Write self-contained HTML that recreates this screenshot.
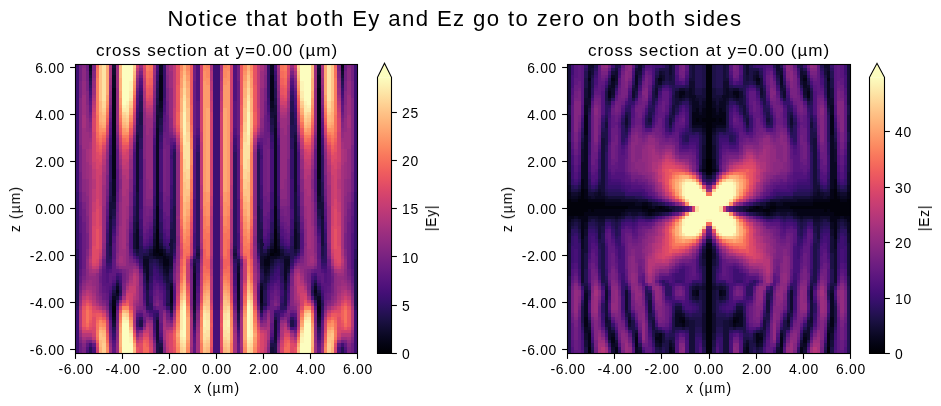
<!DOCTYPE html>
<html><head><meta charset="utf-8"><title>fields</title>
<style>
html,body{margin:0;padding:0;background:#fff;}
body{width:941px;height:406px;position:relative;overflow:hidden;font-family:"Liberation Sans",sans-serif;color:#000;}
svg{position:absolute;left:0;top:0;}
.t{position:absolute;white-space:nowrap;line-height:16px;will-change:transform;}
.c{transform:translateX(-50%);}
.r{transform:translateX(-100%);}
.rot{transform:translate(-50%,-50%) rotate(-90deg);}
.ttl{font-size:22.2px;line-height:26px;letter-spacing:1.36px;}
.sub{font-size:17.1px;line-height:20px;letter-spacing:0.95px;}
.tk{font-size:13.9px;letter-spacing:0.7px;}
</style></head>
<body>
<svg width="941" height="406" viewBox="0 0 941 406" shape-rendering="crispEdges">
<defs></defs>
<g><g transform="translate(77.179 64.500) scale(3.35714 3.36047)" stroke-width="1.03" fill="none">
<path stroke="#3f0f72" stroke-width="84" d="M41.5 0v86"/>
<path stroke="#02020b" d="M11 72v2M24 49v7M25 56v1M58 56v1M59 49v7M72 72v2"/>
<path stroke="#050416" d="M4 0v1M11 7v27M11 70v2M11 74v1M12 67v1M23 55v2M24 42v7M24 56v1M25 3v8M25 55v1M26 57v3M27 58v2M28 67v4M55 67v4M56 58v2M57 57v3M58 3v8M58 55v1M59 42v7M59 56v1M60 55v2M71 67v1M72 7v27M72 70v2M72 74v1M79 0v1"/>
<path stroke="#0a0822" d="M4 1v1M11 3v4M11 34v5M11 69v1M11 75v1M12 66v1M12 68v1M18 49v6M20 58v2M21 58v6M23 54v1M24 19v23M24 57v1M25 0v3M25 11v2M25 57v1M26 56v1M26 60v1M27 57v1M27 60v2M28 66v1M28 71v1M35 62v8M48 62v8M55 66v1M55 71v1M56 57v1M56 60v2M57 56v1M57 60v1M58 0v3M58 11v2M58 57v1M59 19v23M59 57v1M60 54v1M62 58v6M63 58v2M65 49v6M71 66v1M71 68v1M72 3v4M72 34v5M72 69v1M72 75v1M79 1v1"/>
<path stroke="#100b2d" d="M4 2v1M10 45v1M11 1v2M11 39v2M11 76v1M18 23v15M18 47v2M20 57v1M20 60v1M21 57v1M21 64v1M22 56v1M23 52v2M23 57v1M24 15v4M24 76v6M25 13v1M25 54v1M25 58v1M26 55v1M26 61v1M27 62v1M28 57v3M28 65v1M28 72v1M35 60v2M35 70v3M48 60v2M48 70v3M55 57v3M55 65v1M55 72v1M56 62v1M57 55v1M57 61v1M58 13v1M58 54v1M58 58v1M59 15v4M59 76v6M60 52v2M60 57v1M61 56v1M62 57v1M62 64v1M63 57v1M63 60v1M65 23v15M65 47v2M72 1v2M72 39v2M72 76v1M73 45v1M79 2v1"/>
<path stroke="#150e38" d="M4 3v1M10 41v4M10 46v8M11 0v1M11 41v2M11 68v1M11 77v1M12 65v1M12 69v1M17 50v5M18 21v2M18 38v9M18 55v1M20 61v1M21 65v2M22 55v1M22 57v1M23 50v2M24 12v3M24 82v1M25 14v2M25 53v1M25 59v1M25 84v2M26 62v1M27 56v1M27 63v2M28 52v5M28 60v1M35 59v1M35 73v1M36 56v1M47 56v1M48 59v1M48 73v1M55 52v5M55 60v1M56 56v1M56 63v2M57 62v1M58 14v2M58 53v1M58 59v1M58 84v2M59 12v3M59 82v1M60 50v2M61 55v1M61 57v1M62 65v2M63 61v1M65 21v2M65 38v9M65 55v1M66 50v5M71 65v1M71 69v1M72 0v1M72 41v2M72 68v1M72 77v1M73 41v4M73 46v8M79 3v1"/>
<path stroke="#1d1147" d="M4 4v1M10 39v2M10 54v3M11 43v2M11 67v1M17 47v3M18 20v1M18 56v1M19 14v4M19 76v2M20 56v1M21 56v1M21 67v5M22 58v1M23 48v2M24 10v2M24 58v1M24 75v1M24 83v3M25 16v2M25 52v1M25 60v1M25 83v1M26 63v1M27 65v2M27 71v1M28 49v3M28 61v1M28 64v1M28 73v1M29 42v11M35 58v1M35 74v2M36 55v1M36 57v1M47 55v1M47 57v1M48 58v1M48 74v2M54 42v11M55 49v3M55 61v1M55 64v1M55 73v1M56 65v2M56 71v1M57 63v1M58 16v2M58 52v1M58 60v1M58 83v1M59 10v2M59 58v1M59 75v1M59 83v3M60 48v2M61 58v1M62 56v1M62 67v5M63 56v1M64 14v4M64 76v2M65 20v1M65 56v1M66 47v3M72 43v2M72 67v1M73 39v2M73 54v3M79 4v1"/>
<path stroke="#241253" d="M0 58v14M4 5v1M4 84v2M10 35v4M10 57v1M10 71v1M11 45v1M11 78v1M12 64v1M13 67v1M17 45v2M17 55v1M18 18v2M19 11v3M19 18v4M19 54v4M20 62v1M21 55v1M22 54v1M22 59v4M23 46v2M23 58v1M24 7v3M24 59v1M25 18v2M25 50v2M25 61v1M26 54v1M26 64v1M27 55v1M27 67v4M28 47v2M28 62v2M29 26v16M29 53v2M35 76v1M36 54v1M47 54v1M48 76v1M54 26v16M54 53v2M55 47v2M55 62v2M56 55v1M56 67v4M57 54v1M57 64v1M58 18v2M58 50v2M58 61v1M59 7v3M59 59v1M60 46v2M60 58v1M61 54v1M61 59v4M62 55v1M63 62v1M64 11v3M64 18v4M64 54v4M65 18v2M66 45v2M66 55v1M70 67v1M71 64v1M72 45v1M72 78v1M73 35v4M73 57v1M73 71v1M79 5v1M79 84v2M83 58v14"/>
<path stroke="#2c115f" d="M0 55v3M0 72v1M4 6v1M9 53v6M10 27v8M10 58v1M10 70v1M10 72v1M11 46v2M11 66v1M11 79v1M12 70v1M13 66v1M13 68v1M17 42v3M18 16v2M19 9v2M19 22v3M19 51v3M19 58v1M19 75v1M20 55v1M20 63v2M21 72v1M22 63v2M22 71v2M23 43v3M23 59v1M24 5v2M24 60v1M24 74v1M25 20v1M25 47v3M25 62v1M25 82v1M28 43v4M29 25v1M29 55v1M35 77v1M36 26v28M36 58v1M47 26v28M47 58v1M48 77v1M54 25v1M54 55v1M55 43v4M58 20v1M58 47v3M58 62v1M58 82v1M59 5v2M59 60v1M59 74v1M60 43v3M60 59v1M61 63v2M61 71v2M62 72v1M63 55v1M63 63v2M64 9v2M64 22v3M64 51v3M64 58v1M64 75v1M65 16v2M66 42v3M70 66v1M70 68v1M71 70v1M72 46v2M72 66v1M72 79v1M73 27v8M73 58v1M73 70v1M73 72v1M74 53v6M79 6v1M83 55v3M83 72v1"/>
<path stroke="#36106b" d="M0 38v17M4 7v1M9 50v3M9 59v1M10 24v3M10 59v1M10 69v1M10 73v1M11 48v1M11 80v1M12 63v1M13 65v1M17 39v3M17 56v1M18 14v2M18 57v1M18 76v2M19 8v1M19 25v9M19 49v2M19 59v1M20 65v1M21 54v1M22 53v1M22 65v2M22 69v2M23 39v4M23 60v1M23 74v3M24 3v2M24 61v1M25 21v2M25 43v4M25 63v1M26 0v10M26 53v1M26 65v1M27 54v1M27 72v1M28 40v3M28 74v1M29 56v1M35 57v1M35 78v1M36 24v2M36 59v3M47 24v2M47 59v3M48 57v1M48 78v1M54 56v1M55 40v3M55 74v1M56 54v1M56 72v1M57 0v10M57 53v1M57 65v1M58 21v2M58 43v4M58 63v1M59 3v2M59 61v1M60 39v4M60 60v1M60 74v3M61 53v1M61 65v2M61 69v2M62 54v1M63 65v1M64 8v1M64 25v9M64 49v2M64 59v1M65 14v2M65 57v1M65 76v2M66 39v3M66 56v1M70 65v1M71 63v1M72 48v1M72 80v1M73 24v3M73 59v1M73 69v1M73 73v1M74 50v3M74 59v1M79 7v1M83 38v17"/>
<path stroke="#471078" d="M3 85v1M4 9v1M5 84v2M9 47v2M9 61v1M10 21v1M10 67v1M10 75v1M11 50v1M12 62v1M13 63v1M17 26v10M18 12v1M18 75v1M19 6v1M19 43v3M19 60v1M19 78v1M20 68v2M21 53v1M22 51v1M23 22v2M23 63v1M23 79v1M24 0v2M24 64v1M25 25v13M25 65v1M26 12v2M26 50v2M26 67v5M27 52v1M28 25v2M28 28v8M29 57v1M35 50v5M35 56v1M35 79v1M36 21v1M36 64v2M41 73v13M42 73v13M47 21v1M47 64v2M48 50v5M48 56v1M48 79v1M54 57v1M55 25v2M55 28v8M56 52v1M57 12v2M57 50v2M57 67v5M58 25v13M58 65v1M59 0v2M59 64v1M60 22v2M60 63v1M60 79v1M61 51v1M62 53v1M63 68v2M64 6v1M64 43v3M64 60v1M64 78v1M65 12v1M65 75v1M66 26v10M70 63v1M71 62v1M72 50v1M73 21v1M73 67v1M73 75v1M74 47v2M74 61v1M78 84v2M79 9v1M80 85v1"/>
<path stroke="#51127c" d="M1 50v11M3 84v1M4 10v1M9 45v2M9 62v3M10 19v2M10 61v1M10 66v1M11 51v2M11 64v1M11 82v1M13 62v1M13 69v1M16 50v5M17 25v1M17 57v1M18 10v2M18 58v1M18 78v1M19 5v1M19 74v1M20 53v1M20 70v1M21 52v1M21 73v1M22 49v2M22 74v1M23 21v1M23 64v2M23 80v1M25 66v1M25 80v1M26 14v1M26 49v1M27 51v1M28 24v1M29 23v1M29 67v3M35 40v10M35 55v1M35 80v1M36 0v11M36 19v2M36 66v2M47 0v11M47 19v2M47 66v2M48 40v10M48 55v1M48 80v1M54 23v1M54 67v3M55 24v1M56 51v1M57 14v1M57 49v1M58 66v1M58 80v1M60 21v1M60 64v2M60 80v1M61 49v2M61 74v1M62 52v1M62 73v1M63 53v1M63 70v1M64 5v1M64 74v1M65 10v2M65 58v1M65 78v1M66 25v1M66 57v1M67 50v5M70 62v1M70 69v1M72 51v2M72 64v1M72 82v1M73 19v2M73 61v1M73 66v1M74 45v2M74 62v3M79 10v1M80 84v1M82 50v11"/>
<path stroke="#59157e" d="M1 45v5M1 61v2M4 11v1M8 61v5M9 43v2M9 65v3M10 17v2M10 65v1M10 76v1M11 53v5M11 63v1M11 83v1M12 31v7M12 72v1M16 49v1M16 55v1M17 24v1M18 9v1M18 74v1M19 4v1M20 52v1M20 71v1M21 50v2M22 48v1M23 19v2M23 66v1M23 72v1M24 65v1M25 67v1M25 79v1M26 15v2M26 46v3M27 49v2M27 73v1M28 23v1M28 75v1M29 58v1M29 66v1M29 70v1M35 25v15M35 81v2M36 11v8M36 68v3M47 11v8M47 68v3M48 25v15M48 81v2M54 58v1M54 66v1M54 70v1M55 23v1M55 75v1M56 49v2M56 73v1M57 15v2M57 46v3M58 67v1M58 79v1M59 65v1M60 19v2M60 66v1M60 72v1M61 48v1M62 50v2M63 52v1M63 71v1M64 4v1M65 9v1M65 74v1M66 24v1M67 49v1M67 55v1M71 31v7M71 72v1M72 53v5M72 63v1M72 83v1M73 17v2M73 65v1M73 76v1M74 43v2M74 65v3M75 61v5M79 11v1M82 45v5M82 61v2"/>
<path stroke="#601880" d="M1 41v4M1 63v2M3 83v1M4 12v2M5 83v1M8 60v1M8 66v2M9 41v2M9 68v2M10 16v1M10 62v3M10 77v2M11 58v5M11 84v2M12 25v6M12 38v3M12 61v1M16 47v2M16 56v1M17 23v1M18 8v1M19 61v1M20 50v2M20 76v1M21 49v1M22 47v1M23 17v2M23 67v2M23 81v1M24 66v1M25 68v2M25 77v2M26 17v3M26 44v2M26 72v1M27 45v4M28 22v1M29 65v1M29 71v1M34 59v1M35 21v4M35 83v3M36 71v1M47 71v1M48 21v4M48 83v3M49 59v1M54 65v1M54 71v1M55 22v1M56 45v4M57 17v3M57 44v2M57 72v1M58 68v2M58 77v2M59 66v1M60 17v2M60 67v2M60 81v1M61 47v1M62 49v1M63 50v2M63 76v1M64 61v1M65 8v1M66 23v1M67 47v2M67 56v1M71 25v6M71 38v3M71 61v1M72 58v5M72 84v2M73 16v1M73 62v3M73 77v2M74 41v2M74 68v2M75 60v1M75 66v2M78 83v1M79 12v2M80 83v1M82 41v4M82 63v2"/>
<path stroke="#6a1c81" d="M1 38v3M1 65v1M1 83v3M2 47v14M3 0v2M4 14v1M7 63v2M8 58v2M8 68v2M9 39v2M9 70v2M10 14v2M10 79v1M12 24v1M12 41v3M12 73v1M13 61v1M16 45v2M17 58v1M18 7v1M18 59v1M18 79v1M19 3v1M19 73v1M20 48v2M20 72v1M20 75v1M21 47v2M21 74v1M22 45v2M23 14v3M23 69v2M24 67v2M24 72v1M25 70v7M26 20v2M26 41v3M27 15v9M27 39v6M27 74v1M29 22v1M29 59v2M34 58v1M34 60v1M35 5v16M36 72v1M47 72v1M48 5v16M49 58v1M49 60v1M54 22v1M54 59v2M56 15v9M56 39v6M56 74v1M57 20v2M57 41v3M58 70v7M59 67v2M59 72v1M60 14v3M60 69v2M61 45v2M62 47v2M62 74v1M63 48v2M63 72v1M63 75v1M64 3v1M64 73v1M65 7v1M65 59v1M65 79v1M66 58v1M67 45v2M70 61v1M71 24v1M71 41v3M71 73v1M73 14v2M73 79v1M74 39v2M74 70v2M75 58v2M75 68v2M76 63v2M79 14v1M80 0v2M81 47v14M82 38v3M82 65v1M82 83v3"/>
<path stroke="#721f81" d="M1 0v5M1 32v6M1 66v1M2 43v4M2 61v2M3 2v3M4 15v1M4 82v1M7 62v1M7 65v3M9 37v2M10 13v1M10 80v1M12 22v2M12 44v4M12 74v2M14 62v3M16 42v3M16 57v1M17 22v1M18 73v1M19 62v1M20 42v6M20 74v1M20 77v1M21 45v2M22 43v2M22 75v1M23 12v2M23 71v1M23 82v1M24 69v1M26 22v3M26 38v3M27 11v4M27 24v15M27 75v1M28 21v1M28 76v1M29 61v1M29 64v1M29 72v1M34 61v3M35 0v5M48 0v5M49 61v3M54 61v1M54 64v1M54 72v1M55 21v1M55 76v1M56 11v4M56 24v15M56 75v1M57 22v3M57 38v3M59 69v1M60 12v2M60 71v1M60 82v1M61 43v2M61 75v1M62 45v2M63 42v6M63 74v1M63 77v1M64 62v1M65 73v1M66 22v1M67 42v3M67 57v1M69 62v3M71 22v2M71 44v4M71 74v2M73 13v1M73 80v1M74 37v2M76 62v1M76 65v3M79 15v1M79 82v1M80 2v3M81 43v4M81 61v2M82 0v5M82 32v6M82 66v1"/>
<path stroke="#792282" d="M1 5v5M1 24v8M1 67v1M1 82v1M2 41v2M2 63v1M2 84v2M3 5v3M3 50v5M3 82v1M4 16v1M5 0v2M7 61v1M7 68v1M8 57v1M8 70v1M9 33v4M9 72v1M10 12v1M10 81v1M12 21v1M12 48v3M12 60v1M12 76v1M14 61v1M14 65v2M16 38v4M16 58v1M17 21v1M18 6v1M19 2v1M19 63v3M19 72v1M20 28v14M20 73v1M21 42v3M22 42v1M23 10v2M24 70v1M26 25v13M27 7v4M28 20v1M29 62v2M34 64v8M36 73v1M47 73v1M49 64v8M54 62v2M55 20v1M56 7v4M57 25v13M59 70v1M60 10v2M61 42v1M62 42v3M63 28v14M63 73v1M64 2v1M64 63v3M64 72v1M65 6v1M66 21v1M67 38v4M67 58v1M69 61v1M69 65v2M71 21v1M71 48v3M71 60v1M71 76v1M73 12v1M73 81v1M74 33v4M74 72v1M75 57v1M75 70v1M76 61v1M76 68v1M78 0v2M79 16v1M80 5v3M80 50v5M80 82v1M81 41v2M81 63v1M81 84v2M82 5v5M82 24v8M82 67v1M82 82v1"/>
<path stroke="#832681" d="M1 10v14M1 68v1M1 81v1M2 0v1M2 38v3M2 64v1M2 83v1M3 8v4M3 45v5M3 55v2M4 17v2M5 2v2M7 69v1M8 55v2M8 71v1M9 28v5M10 10v2M10 82v1M12 20v1M12 51v5M12 77v2M13 34v3M13 70v1M14 67v1M15 53v1M15 61v3M16 34v4M16 59v1M17 59v1M18 5v1M18 60v1M18 72v1M18 80v1M19 66v6M19 79v1M20 18v10M21 40v2M21 75v1M22 40v2M23 8v2M23 83v1M24 71v1M26 73v1M26 84v2M27 3v4M27 76v1M28 19v1M29 21v1M30 51v3M34 72v1M36 74v2M47 74v2M49 72v1M53 51v3M54 21v1M55 19v1M56 3v4M56 76v1M57 73v1M57 84v2M59 71v1M60 8v2M60 83v1M61 40v2M62 40v2M62 75v1M63 18v10M64 66v6M64 79v1M65 5v1M65 60v1M65 72v1M65 80v1M66 59v1M67 34v4M67 59v1M68 53v1M68 61v3M69 67v1M70 34v3M70 70v1M71 20v1M71 51v5M71 77v2M73 10v2M73 82v1M74 28v5M75 55v2M75 71v1M76 69v1M78 2v2M79 17v2M80 8v4M80 45v5M80 55v2M81 0v1M81 38v3M81 64v1M81 83v1M82 10v14M82 68v1M82 81v1"/>
<path stroke="#8b2981" d="M1 69v1M2 1v4M2 34v4M2 65v1M3 12v4M3 39v6M3 57v1M3 61v3M4 19v1M5 4v1M6 62v7M7 60v1M7 70v1M8 53v2M9 26v2M9 73v1M10 8v2M12 18v2M12 56v2M12 59v1M12 79v2M13 31v3M13 37v4M13 60v1M14 60v1M14 68v1M15 49v4M15 54v7M15 64v1M16 31v3M16 60v1M17 20v1M18 4v1M19 1v1M20 14v4M21 34v6M22 37v3M22 76v1M23 6v2M23 84v2M26 83v1M27 0v3M28 16v3M28 77v1M29 73v1M30 26v19M30 46v5M30 54v4M36 76v1M47 76v1M53 26v19M53 46v5M53 54v4M54 73v1M55 16v3M55 77v1M56 0v3M57 83v1M60 6v2M60 84v2M61 37v3M61 76v1M62 34v6M63 14v4M64 1v1M65 4v1M66 20v1M67 31v3M67 60v1M68 49v4M68 54v7M68 64v1M69 60v1M69 68v1M70 31v3M70 37v4M70 60v1M71 18v2M71 56v2M71 59v1M71 79v2M73 8v2M74 26v2M74 73v1M75 53v2M76 60v1M76 70v1M77 62v7M78 4v1M79 19v1M80 12v4M80 39v6M80 57v1M80 61v3M81 1v4M81 34v4M81 65v1M82 69v1"/>
<path stroke="#932b80" d="M1 70v1M1 80v1M2 5v4M2 25v9M2 66v1M2 82v1M3 16v4M3 34v5M3 58v3M3 64v1M4 20v2M4 63v1M5 5v2M5 63v3M5 82v1M6 69v1M7 71v1M8 42v11M9 25v1M10 6v2M10 83v1M12 7v11M12 58v1M12 81v2M13 30v1M13 41v7M15 46v3M16 28v3M16 61v1M17 60v1M18 71v1M20 13v1M20 78v1M21 21v13M21 76v1M22 19v18M23 3v3M26 74v1M26 82v1M27 77v1M28 7v9M30 25v1M30 45v1M30 58v2M34 57v1M34 73v1M36 77v1M37 55v2M46 55v2M47 77v1M49 57v1M49 73v1M53 25v1M53 45v1M53 58v2M55 7v9M56 77v1M57 74v1M57 82v1M60 3v3M61 19v18M62 21v13M62 76v1M63 13v1M63 78v1M65 71v1M66 60v1M67 28v3M67 61v1M68 46v3M70 30v1M70 41v7M71 7v11M71 58v1M71 81v2M73 6v2M73 83v1M74 25v1M75 42v11M76 71v1M77 69v1M78 5v2M78 63v3M78 82v1M79 20v2M79 63v1M80 16v4M80 34v5M80 58v3M80 64v1M81 5v4M81 25v9M81 66v1M81 82v1M82 70v1M82 80v1"/>
<path stroke="#9c2e7f" d="M1 71v1M1 79v1M2 9v6M2 19v6M3 20v5M3 29v5M3 65v1M3 81v1M4 22v1M4 62v1M4 64v2M4 81v1M5 7v2M5 62v1M5 66v2M6 70v1M8 36v6M8 72v1M9 24v1M9 74v1M10 4v2M10 84v2M12 0v7M12 83v3M13 28v2M13 48v9M13 59v1M14 55v5M15 42v4M15 65v1M16 27v1M16 62v1M17 19v1M18 3v1M18 61v1M18 70v1M19 0v1M20 11v2M21 16v5M22 16v3M22 77v1M23 1v2M26 75v1M28 2v5M29 20v1M29 74v1M30 24v1M30 60v2M34 74v1M34 84v2M36 78v2M37 57v1M46 57v1M47 78v2M49 74v1M49 84v2M53 24v1M53 60v2M54 20v1M54 74v1M55 2v5M57 75v1M60 1v2M61 16v3M61 77v1M62 16v5M63 11v2M64 0v1M65 3v1M65 61v1M65 70v1M66 19v1M67 27v1M67 62v1M68 42v4M68 65v1M69 55v5M70 28v2M70 48v9M70 59v1M71 0v7M71 83v3M73 4v2M73 84v2M74 24v1M74 74v1M75 36v6M75 72v1M77 70v1M78 7v2M78 62v1M78 66v2M79 22v1M79 62v1M79 64v2M79 81v1M80 20v5M80 29v5M80 65v1M80 81v1M81 9v6M81 19v6M82 71v1M82 79v1"/>
<path stroke="#a5317e" d="M2 15v4M2 67v1M2 81v1M3 25v4M3 66v1M4 23v2M4 30v25M4 61v1M4 66v1M5 9v1M5 68v1M6 61v1M7 59v1M8 32v4M9 23v1M10 1v3M13 27v1M13 57v2M14 39v16M14 69v1M15 37v5M16 25v2M16 63v1M17 18v1M17 61v1M17 71v1M17 76v1M18 62v1M18 66v4M18 81v1M19 80v1M20 10v1M21 15v1M22 15v1M22 78v1M23 0v1M26 76v2M26 79v3M27 78v1M28 0v2M30 62v2M34 75v9M36 80v6M37 53v2M37 58v1M40 0v2M40 58v3M43 0v2M43 58v3M46 53v2M46 58v1M47 80v6M49 75v9M53 62v2M55 0v2M56 78v1M57 76v2M57 79v3M60 0v1M61 15v1M61 78v1M62 15v1M63 10v1M64 80v1M65 62v1M65 66v4M65 81v1M66 18v1M66 61v1M66 71v1M66 76v1M67 25v2M67 63v1M68 37v5M69 39v16M69 69v1M70 27v1M70 57v2M73 1v3M74 23v1M75 32v4M76 59v1M77 61v1M78 9v1M78 68v1M79 23v2M79 30v25M79 61v1M79 66v1M80 25v4M80 66v1M81 15v4M81 67v1M81 81v1"/>
<path stroke="#ad347c" d="M1 72v1M1 78v1M2 68v1M4 25v5M4 55v2M4 60v1M4 67v1M5 10v1M5 61v1M5 69v1M6 71v1M7 58v1M8 30v2M9 22v1M10 0v1M13 26v1M13 71v1M14 33v6M15 34v3M15 66v1M16 64v1M17 70v1M17 72v4M17 77v1M18 2v1M18 63v3M20 8v2M21 14v1M21 77v1M22 14v1M22 79v2M26 78v1M28 78v1M29 19v1M29 75v1M30 23v1M30 64v1M37 43v10M37 59v1M40 2v3M40 57v1M40 61v2M43 2v3M43 57v1M43 61v2M46 43v10M46 59v1M53 23v1M53 64v1M54 19v1M54 75v1M55 78v1M57 78v1M61 14v1M61 79v2M62 14v1M62 77v1M63 8v2M65 2v1M65 63v3M66 70v1M66 72v4M66 77v1M67 64v1M68 34v3M68 66v1M69 33v6M70 26v1M70 71v1M73 0v1M74 22v1M75 30v2M76 58v1M77 71v1M78 10v1M78 61v1M78 69v1M79 25v5M79 55v2M79 60v1M79 67v1M81 68v1M82 72v1M82 78v1"/>
<path stroke="#b73779" d="M1 73v5M2 80v1M3 67v1M3 80v1M4 57v1M4 59v1M4 68v1M4 80v1M5 11v1M5 34v3M5 70v1M7 72v1M8 28v2M9 75v1M13 25v1M14 31v2M15 31v3M16 24v1M16 65v1M17 17v1M17 62v1M17 69v1M20 7v1M21 13v1M22 13v1M22 81v1M30 22v1M30 65v1M37 36v7M37 60v2M40 5v3M40 45v12M40 63v4M43 5v3M43 45v12M43 63v4M46 36v7M46 60v2M53 22v1M53 65v1M61 13v1M61 81v1M62 13v1M63 7v1M66 17v1M66 62v1M66 69v1M67 24v1M67 65v1M68 31v3M69 31v2M70 25v1M74 75v1M75 28v2M76 72v1M78 11v1M78 34v3M78 70v1M79 57v1M79 59v1M79 68v1M79 80v1M80 67v1M80 80v1M81 80v1M82 73v5"/>
<path stroke="#bf3a77" d="M2 69v1M3 68v1M4 58v1M4 69v1M5 12v1M5 31v3M5 37v4M5 71v1M5 81v1M6 60v1M7 57v1M8 27v1M8 73v1M9 21v1M13 24v1M14 30v1M15 29v2M15 67v1M16 23v1M17 16v1M17 63v3M17 68v1M17 78v1M18 1v1M18 82v1M19 81v1M20 5v2M20 79v1M21 78v1M22 12v1M27 79v1M27 84v2M29 0v13M29 18v1M29 76v1M30 66v2M34 56v1M37 23v13M37 62v2M40 8v3M40 42v3M40 67v3M43 8v3M43 42v3M43 67v3M46 23v13M46 62v2M49 56v1M53 66v2M54 0v13M54 18v1M54 76v1M56 79v1M56 84v2M61 12v1M62 78v1M63 5v2M63 79v1M64 81v1M65 1v1M65 82v1M66 16v1M66 63v3M66 68v1M66 78v1M67 23v1M68 29v2M68 67v1M69 30v1M70 24v1M74 21v1M75 27v1M75 73v1M76 57v1M77 60v1M78 12v1M78 31v3M78 37v4M78 71v1M78 81v1M79 58v1M79 69v1M80 68v1M81 69v1"/>
<path stroke="#c73d73" d="M5 13v1M5 29v2M5 41v3M5 60v1M6 72v1M7 33v9M7 56v1M8 26v1M9 76v1M13 23v1M14 28v2M14 70v1M15 28v1M16 22v1M16 66v2M17 15v1M17 66v2M20 4v1M21 12v1M21 79v1M22 82v1M27 80v4M28 79v1M29 13v5M30 21v1M30 68v1M33 59v5M34 53v3M37 20v3M37 64v2M40 11v3M40 39v3M40 70v1M43 11v3M43 39v3M43 70v1M46 20v3M46 64v2M49 53v3M50 59v5M53 21v1M53 68v1M54 13v5M55 79v1M56 80v4M61 82v1M62 12v1M62 79v1M63 4v1M66 15v1M66 66v2M67 22v1M67 66v2M68 28v1M69 28v2M69 70v1M70 23v1M74 76v1M75 26v1M76 33v9M76 56v1M77 72v1M78 13v1M78 29v2M78 41v3M78 60v1"/>
<path stroke="#d0416f" d="M2 70v1M2 79v1M3 69v1M3 79v1M4 70v1M4 79v1M5 14v2M5 20v9M5 44v4M5 80v1M6 31v9M6 59v1M6 84v2M7 30v3M7 42v6M7 55v1M8 25v1M9 20v1M9 77v1M13 22v1M14 27v1M15 26v2M15 68v1M16 68v4M17 14v1M18 0v1M19 82v1M20 3v1M21 11v1M22 11v1M22 83v1M29 77v1M30 69v1M33 58v1M33 64v1M34 51v2M37 0v20M37 66v2M40 14v25M40 71v1M43 14v25M43 71v1M46 0v20M46 66v2M49 51v2M50 58v1M50 64v1M53 69v1M54 77v1M61 11v1M61 83v1M62 11v1M63 3v1M64 82v1M65 0v1M66 14v1M67 68v4M68 26v2M68 68v1M69 27v1M70 22v1M74 20v1M74 77v1M75 25v1M76 30v3M76 42v6M76 55v1M77 31v9M77 59v1M77 84v2M78 14v2M78 20v9M78 44v4M78 80v1M79 70v1M79 79v1M80 69v1M80 79v1M81 70v1M81 79v1"/>
<path stroke="#d8456c" d="M2 71v1M5 16v4M5 48v6M5 59v1M5 72v1M5 78v2M6 28v3M6 40v3M6 58v1M7 29v1M7 48v7M7 73v1M8 24v1M8 74v1M9 19v1M9 78v1M13 21v1M13 72v1M14 26v1M15 25v1M15 69v1M16 21v1M17 79v1M18 83v1M20 1v2M20 80v1M21 80v1M22 10v1M22 84v2M28 80v6M30 20v1M30 70v1M31 55v2M34 49v2M37 68v1M40 72v1M43 72v1M46 68v1M49 49v2M52 55v2M53 20v1M53 70v1M55 80v6M61 10v1M61 84v2M62 80v1M63 1v2M63 80v1M65 83v1M66 79v1M67 21v1M68 25v1M68 69v1M69 26v1M70 21v1M70 72v1M74 19v1M74 78v1M75 24v1M75 74v1M76 29v1M76 48v7M76 73v1M77 28v3M77 40v3M77 58v1M78 16v4M78 48v6M78 59v1M78 72v1M78 78v2M81 71v1"/>
<path stroke="#df4a68" d="M2 78v1M3 70v1M4 71v1M4 78v1M5 54v5M5 73v1M5 75v3M6 26v2M6 43v6M6 55v3M6 73v1M6 83v1M7 27v2M9 18v1M9 79v1M14 25v1M16 72v1M17 13v1M19 83v3M20 0v1M21 10v1M22 9v1M29 78v1M30 71v1M31 53v2M31 57v1M33 65v1M34 47v2M37 69v1M40 84v2M43 84v2M46 69v1M49 47v2M50 65v1M52 53v2M52 57v1M53 71v1M54 78v1M61 9v1M62 10v1M63 0v1M64 83v3M66 13v1M67 72v1M69 25v1M74 18v1M74 79v1M76 27v2M77 26v2M77 43v6M77 55v3M77 73v1M77 83v1M78 54v5M78 73v1M78 75v3M79 71v1M79 78v1M80 70v1M81 78v1"/>
<path stroke="#e75263" d="M2 72v1M4 77v1M5 74v1M6 24v2M6 49v6M7 26v1M8 23v1M13 20v1M14 24v1M14 71v1M15 24v1M15 70v1M16 20v1M17 12v1M18 84v2M20 81v1M21 9v1M21 81v1M22 7v2M29 84v2M30 0v6M30 19v1M31 51v2M33 57v1M33 66v1M34 45v2M37 70v1M40 73v4M40 78v6M43 73v4M43 78v6M46 70v1M49 45v2M50 57v1M50 66v1M52 51v2M53 0v6M53 19v1M54 84v2M61 7v2M62 9v1M62 81v1M63 81v1M65 84v2M66 12v1M67 20v1M68 24v1M68 70v1M69 24v1M69 71v1M70 20v1M75 23v1M76 26v1M77 24v2M77 49v6M78 74v1M79 77v1M81 72v1"/>
<path stroke="#ec5860" d="M2 73v5M3 71v1M3 78v1M4 72v1M4 76v1M6 23v1M6 74v1M7 25v1M7 74v1M8 75v1M9 17v1M9 80v1M13 19v1M13 73v1M16 19v1M17 11v1M17 80v1M21 7v2M21 82v1M22 6v1M29 79v1M29 82v2M30 6v8M30 18v1M30 72v1M31 49v2M31 58v2M33 67v1M34 0v12M34 43v2M40 77v1M43 77v1M49 0v12M49 43v2M50 67v1M52 49v2M52 58v2M53 6v8M53 18v1M53 72v1M54 79v1M54 82v2M61 6v1M62 7v2M62 82v1M66 11v1M66 80v1M67 19v1M70 19v1M70 73v1M74 17v1M74 80v1M75 75v1M76 25v1M76 74v1M77 23v1M77 74v1M79 72v1M79 76v1M80 71v1M80 78v1M81 73v5"/>
<path stroke="#f1605d" d="M4 73v3M6 22v1M6 75v1M6 82v1M7 24v1M8 22v1M9 16v1M9 81v1M13 18v1M14 23v1M15 23v1M15 71v1M16 73v1M17 10v1M20 82v1M21 6v1M21 83v1M22 4v2M29 80v2M30 14v4M31 48v1M31 60v2M33 68v1M34 12v6M34 40v3M37 71v1M38 55v5M39 58v3M44 58v3M45 55v5M46 71v1M49 12v6M49 40v3M50 68v1M52 48v1M52 60v2M53 14v4M54 80v2M61 4v2M62 6v1M62 83v1M63 82v1M66 10v1M67 73v1M68 23v1M68 71v1M69 23v1M70 18v1M74 16v1M74 81v1M75 22v1M76 24v1M77 22v1M77 75v1M77 82v1M79 73v3"/>
<path stroke="#f56b5c" d="M3 72v1M3 77v1M6 0v1M6 20v2M6 76v1M7 23v1M7 75v1M8 21v1M9 15v1M9 82v1M13 17v1M14 22v1M16 18v1M17 9v1M20 83v3M21 4v2M21 84v2M22 2v2M30 73v1M31 46v2M31 62v2M33 56v1M33 69v2M34 18v2M34 38v2M37 72v1M38 52v3M38 60v2M39 57v1M39 61v1M44 57v1M44 61v1M45 52v3M45 60v2M46 72v1M49 18v2M49 38v2M50 56v1M50 69v2M52 46v2M52 62v2M53 73v1M61 2v2M62 4v2M62 84v2M63 83v3M66 9v1M67 18v1M69 22v1M70 17v1M74 15v1M74 82v1M75 21v1M76 23v1M76 75v1M77 0v1M77 20v2M77 76v1M80 72v1M80 77v1"/>
<path stroke="#f8745c" d="M3 73v4M6 1v3M6 15v5M6 77v2M6 81v1M7 22v1M8 76v1M9 14v1M13 16v1M13 74v1M15 22v1M16 17v1M16 74v1M17 81v1M21 2v2M22 0v2M30 74v1M31 39v7M31 64v1M32 55v3M33 54v2M33 71v1M34 20v2M34 34v4M38 49v3M38 62v2M39 50v7M39 62v1M44 50v7M44 62v1M45 49v3M45 62v2M49 20v2M49 34v4M50 54v2M50 71v1M51 55v3M52 39v7M52 64v1M53 74v1M61 0v2M62 2v2M66 81v1M67 17v1M67 74v1M68 22v1M70 16v1M70 74v1M74 14v1M75 76v1M76 22v1M77 1v3M77 15v5M77 77v2M77 81v1M80 73v4"/>
<path stroke="#fa7d5e" d="M6 4v11M6 79v2M7 21v1M8 20v1M9 13v1M9 83v1M13 15v1M13 75v1M14 21v1M15 21v1M17 8v1M21 0v2M30 75v2M31 26v13M32 53v2M32 58v2M33 51v3M34 22v3M34 30v4M37 73v2M37 83v3M38 45v4M38 64v1M39 0v1M39 48v2M39 63v1M44 0v1M44 48v2M44 63v1M45 45v4M45 64v1M46 73v2M46 83v3M49 22v3M49 30v4M50 51v3M51 53v2M51 58v2M52 26v13M53 75v2M62 0v2M66 8v1M68 21v1M69 21v1M70 15v1M70 75v1M74 13v1M74 83v1M75 20v1M76 21v1M77 4v11M77 79v2"/>
<path stroke="#fc8961" d="M7 20v1M7 76v1M8 77v1M9 12v1M9 84v2M13 13v2M13 76v1M14 72v1M15 72v1M16 16v1M16 75v1M17 7v1M17 82v1M30 77v1M30 84v2M31 0v2M31 24v2M31 65v1M32 52v1M32 60v2M33 0v2M33 49v2M33 72v1M33 84v2M34 25v5M37 75v3M37 82v1M38 0v2M38 42v3M38 65v1M39 1v3M39 45v3M39 64v1M44 1v3M44 45v3M44 64v1M45 0v2M45 42v3M45 65v1M46 75v3M46 82v1M49 25v5M50 0v2M50 49v2M50 72v1M50 84v2M51 52v1M51 60v2M52 0v2M52 24v2M52 65v1M53 77v1M53 84v2M66 7v1M66 82v1M67 16v1M67 75v1M68 72v1M69 72v1M70 13v2M70 76v1M74 12v1M74 84v2M75 77v1M76 20v1M76 76v1"/>
<path stroke="#fd9266" d="M7 19v1M7 77v1M8 19v1M9 11v1M13 12v1M14 20v1M15 20v1M16 15v1M17 6v1M30 78v1M30 83v1M31 2v2M31 23v1M31 66v1M32 50v2M32 62v1M33 2v1M33 47v2M33 73v1M33 83v1M37 78v4M38 2v3M38 38v4M38 66v1M39 4v2M39 41v4M39 65v1M44 4v2M44 41v4M44 65v1M45 2v3M45 38v4M45 66v1M46 78v4M50 2v1M50 47v2M50 73v1M50 83v1M51 50v2M51 62v1M52 2v2M52 23v1M52 66v1M53 78v1M53 83v1M66 6v1M67 15v1M68 20v1M69 20v1M70 12v1M74 11v1M75 19v1M76 19v1M76 77v1"/>
<path stroke="#fd9b6b" d="M7 18v1M8 78v1M9 9v2M13 10v2M13 77v1M14 19v1M16 76v1M17 5v1M30 79v1M30 81v2M31 4v3M31 22v1M31 67v1M32 49v1M32 63v1M33 3v2M33 45v2M33 74v1M33 82v1M38 5v33M38 67v1M39 6v7M39 38v3M39 66v1M44 6v7M44 38v3M44 66v1M45 5v33M45 67v1M50 3v2M50 45v2M50 74v1M50 82v1M51 49v1M51 63v1M52 4v3M52 22v1M52 67v1M53 79v1M53 81v2M66 5v1M67 76v1M69 19v1M70 10v2M70 77v1M74 9v2M75 78v1M76 18v1"/>
<path stroke="#fea772" d="M7 17v1M7 78v1M8 18v1M9 0v9M13 8v2M13 78v2M13 84v2M15 19v1M16 14v1M16 77v1M17 4v1M17 83v1M30 80v1M31 7v3M31 20v2M32 47v2M32 64v1M33 5v2M33 43v2M33 75v7M38 68v1M39 13v25M39 67v1M44 13v25M44 67v1M45 68v1M50 5v2M50 43v2M50 75v7M51 47v2M51 64v1M52 7v3M52 20v2M53 80v1M66 4v1M66 83v1M67 14v1M67 77v1M68 19v1M70 8v2M70 78v2M70 84v2M74 0v9M75 18v1M76 17v1M76 78v1"/>
<path stroke="#feb078" d="M7 14v3M7 84v2M8 17v1M8 79v1M13 4v4M13 80v4M14 18v1M15 73v1M16 13v1M17 3v1M31 10v4M31 19v1M31 68v1M32 0v2M32 45v2M32 65v1M33 7v3M33 41v2M38 69v1M39 68v1M44 68v1M45 69v1M50 7v3M50 41v2M51 0v2M51 45v2M51 65v1M52 10v4M52 19v1M52 68v1M66 3v1M67 13v1M68 73v1M69 18v1M70 4v4M70 80v4M75 17v1M75 79v1M76 14v3M76 84v2"/>
<path stroke="#feb97f" d="M7 11v3M7 79v1M7 82v2M8 15v2M8 80v1M13 0v4M14 17v1M14 73v1M15 18v1M17 2v1M17 84v2M31 14v5M31 69v1M32 2v1M32 41v4M32 66v1M33 10v3M33 39v2M38 70v1M39 69v1M39 84v2M44 69v1M44 84v2M45 70v1M50 10v3M50 39v2M51 2v1M51 41v4M51 66v1M52 14v5M52 69v1M66 2v1M66 84v2M68 18v1M69 17v1M69 73v1M70 0v4M75 15v2M75 80v1M76 11v3M76 79v1M76 82v2"/>
<path stroke="#fec488" d="M7 0v11M7 80v2M8 14v1M8 81v2M14 16v1M15 17v1M16 12v1M16 78v1M17 1v1M32 3v2M32 35v6M32 67v1M33 13v4M33 37v2M38 71v1M38 84v2M39 70v2M39 83v1M44 70v2M44 83v1M45 71v1M45 84v2M50 13v4M50 37v2M51 3v2M51 35v6M51 67v1M66 1v1M67 12v1M67 78v1M68 17v1M69 16v1M75 14v1M75 81v2M76 0v11M76 80v2"/>
<path stroke="#fecd90" d="M8 13v1M8 83v3M14 15v1M15 16v1M15 74v1M16 11v1M17 0v1M31 70v1M31 84v2M32 5v2M32 32v3M32 68v1M33 17v3M33 34v3M38 83v1M39 72v1M39 82v1M44 72v1M44 82v1M45 83v1M50 17v3M50 34v3M51 5v2M51 32v3M51 68v1M52 70v1M52 84v2M66 0v1M67 11v1M68 16v1M68 74v1M69 15v1M75 13v1M75 83v3"/>
<path stroke="#fed799" d="M8 11v2M14 14v1M14 74v1M15 15v1M16 79v1M31 71v1M31 83v1M32 7v2M32 28v4M32 69v1M32 84v2M33 20v3M33 31v3M38 72v1M38 82v1M39 73v1M39 81v1M44 73v1M44 81v1M45 72v1M45 82v1M50 20v3M50 31v3M51 7v2M51 28v4M51 69v1M51 84v2M52 71v1M52 83v1M67 79v1M68 15v1M69 14v1M69 74v1M75 11v2"/>
<path stroke="#fde2a3" d="M8 0v11M15 14v1M15 75v1M16 10v1M31 72v1M31 82v1M32 9v2M32 24v4M32 83v1M33 23v8M38 73v1M38 80v2M39 74v2M39 79v2M44 74v2M44 79v2M45 73v1M45 80v2M50 23v8M51 9v2M51 24v4M51 83v1M52 72v1M52 82v1M67 10v1M68 14v1M68 75v1M75 0v11"/>
<path stroke="#fdebac" d="M14 13v1M14 75v1M15 12v2M16 8v2M16 80v1M31 73v6M31 81v1M32 11v3M32 21v3M32 70v1M32 82v1M38 74v2M38 78v2M39 76v3M44 76v3M45 74v2M45 78v2M51 11v3M51 21v3M51 70v1M51 82v1M52 73v6M52 81v1M67 8v2M67 80v1M68 12v2M69 13v1M69 75v1"/>
<path stroke="#fcf4b6" d="M14 12v1M14 76v1M15 11v1M15 76v1M16 5v3M16 81v2M31 79v2M32 14v7M32 71v1M32 81v1M38 76v2M45 76v2M51 14v7M51 71v1M51 81v1M52 79v2M67 5v3M67 81v2M68 11v1M68 76v1M69 12v1M69 76v1"/>
<path stroke="#fcfdbf" d="M14 0v12M14 77v9M15 0v11M15 77v9M16 0v5M16 83v3M32 72v9M51 72v9M67 0v5M67 83v3M68 0v11M68 77v9M69 0v12M69 77v9"/>
</g></g>
<g><g transform="translate(569.185 64.500) scale(3.36905 3.36047)" stroke-width="1.03" fill="none">
<path stroke="#150e38" stroke-width="84" d="M41.5 0v86"/>
<path stroke="#000004" d="M41 28v4M42 28v4"/>
<path stroke="#02020b" d="M0 40v5M1 41v4M2 41v4M3 40v5M4 37v8M5 40v4M6 41v2M6 84v2M7 41v3M8 41v2M9 41v2M10 41v2M11 42v1M12 42v1M13 42v1M14 42v1M15 42v1M16 42v1M17 42v1M22 42v1M23 42v1M24 43v1M25 43v1M27 42v1M34 76v1M38 16v1M40 16v1M41 0v28M41 32v1M41 55v31M42 0v28M42 32v1M42 55v31M43 16v1M45 16v1M49 76v1M56 42v1M58 43v1M59 43v1M60 42v1M61 42v1M66 42v1M67 42v1M68 42v1M69 42v1M70 42v1M71 42v1M72 42v1M73 41v2M74 41v2M75 41v2M76 41v3M77 41v2M77 84v2M78 40v4M79 37v8M80 40v5M81 41v4M82 41v4M83 40v5"/>
<path stroke="#050416" d="M0 38v2M0 45v2M1 40v1M1 45v1M2 40v1M3 39v1M3 45v1M4 34v3M4 45v7M5 15v6M5 37v3M5 44v3M5 75v3M6 4v1M6 40v1M6 43v2M6 80v4M7 40v1M7 44v1M8 40v1M8 43v2M9 40v1M9 43v2M10 40v1M10 43v2M11 41v1M11 43v2M12 8v2M12 41v1M12 43v2M13 4v1M13 41v1M13 43v2M13 81v2M14 41v1M14 43v2M14 84v2M15 41v1M15 43v2M16 41v1M16 43v1M17 41v1M18 41v2M19 41v2M20 42v1M20 81v3M21 42v1M22 41v1M22 43v1M23 41v1M23 43v1M24 42v1M24 44v1M26 42v2M26 81v1M27 4v1M27 43v1M27 80v3M28 42v2M29 43v1M30 84v2M33 8v2M33 75v2M34 8v1M34 75v1M34 77v1M37 14v4M38 13v3M38 17v1M38 67v2M39 15v3M40 13v3M40 17v2M40 31v1M41 53v2M42 53v2M43 13v3M43 17v2M43 31v1M44 15v3M45 13v3M45 17v1M45 67v2M46 14v4M49 8v1M49 75v1M49 77v1M50 8v2M50 75v2M53 84v2M54 43v1M55 42v2M56 4v1M56 43v1M56 80v3M57 42v2M57 81v1M59 42v1M59 44v1M60 41v1M60 43v1M61 41v1M61 43v1M62 42v1M63 42v1M63 81v3M64 41v2M65 41v2M66 41v1M67 41v1M67 43v1M68 41v1M68 43v2M69 41v1M69 43v2M69 84v2M70 4v1M70 41v1M70 43v2M70 81v2M71 8v2M71 41v1M71 43v2M72 41v1M72 43v2M73 40v1M73 43v2M74 40v1M74 43v2M75 40v1M75 43v2M76 40v1M76 44v1M77 4v1M77 40v1M77 43v2M77 80v4M78 15v6M78 37v3M78 44v3M78 75v3M79 34v3M79 45v7M80 39v1M80 45v1M81 40v1M82 40v1M82 45v1M83 38v2M83 45v2"/>
<path stroke="#0a0822" d="M0 36v2M0 47v3M1 39v1M2 39v1M2 45v1M3 38v1M4 29v5M4 52v3M5 12v3M5 21v16M5 47v2M5 68v7M5 78v2M6 2v2M6 5v5M6 39v1M6 79v1M8 39v1M9 38v2M9 45v1M10 39v1M10 45v1M11 40v1M12 7v1M12 40v1M13 3v1M13 5v2M13 40v1M13 80v1M13 83v1M14 40v1M14 45v1M15 40v1M16 44v1M17 43v1M18 43v1M18 76v1M19 43v1M20 3v3M20 41v1M20 43v1M20 80v1M20 84v2M21 41v1M21 43v1M23 44v1M24 41v1M25 42v1M25 44v1M26 80v1M26 82v1M27 3v1M27 5v1M27 83v1M29 42v1M30 43v1M30 83v1M31 85v1M32 74v4M33 74v1M33 77v1M34 9v1M36 7v3M37 9v5M37 18v1M37 67v2M38 11v2M38 18v1M39 14v1M39 18v1M40 11v2M40 19v1M40 28v3M43 11v2M43 19v1M43 28v3M44 14v1M44 18v1M45 11v2M45 18v1M46 9v5M46 18v1M46 67v2M47 7v3M49 9v1M50 74v1M50 77v1M51 74v4M52 85v1M53 43v1M53 83v1M54 42v1M56 3v1M56 5v1M56 83v1M57 80v1M57 82v1M58 42v1M58 44v1M59 41v1M60 44v1M62 41v1M62 43v1M63 3v3M63 41v1M63 43v1M63 80v1M63 84v2M64 43v1M65 43v1M65 76v1M66 43v1M67 44v1M68 40v1M69 40v1M69 45v1M70 3v1M70 5v2M70 40v1M70 80v1M70 83v1M71 7v1M71 40v1M72 40v1M73 39v1M73 45v1M74 38v2M74 45v1M75 39v1M77 2v2M77 5v5M77 39v1M77 79v1M78 12v3M78 21v16M78 47v2M78 68v7M78 78v2M79 29v5M79 52v3M80 38v1M81 39v1M81 45v1M82 39v1M83 36v2M83 47v3"/>
<path stroke="#100b2d" d="M0 32v4M0 50v3M1 38v1M1 46v1M2 38v1M3 46v1M4 25v4M4 55v10M5 10v2M5 49v2M5 67v1M5 80v2M6 0v2M6 10v2M6 45v1M6 78v1M7 0v1M7 39v1M7 45v1M8 38v1M8 45v1M9 37v1M9 46v1M10 38v1M10 46v1M11 39v1M11 45v1M11 67v3M11 75v2M12 6v1M12 10v1M12 45v1M12 78v4M13 7v2M13 45v1M13 84v1M14 2v3M14 83v1M15 45v1M16 40v1M17 16v2M17 40v1M17 44v1M17 67v6M18 40v1M18 75v1M18 77v1M19 8v2M19 40v1M19 44v1M20 2v1M20 6v1M20 40v1M20 44v1M21 0v2M21 85v1M22 44v1M26 7v2M26 44v1M26 83v1M27 2v1M28 3v2M30 0v3M30 82v1M31 84v1M32 8v2M32 73v1M33 7v1M33 10v1M33 73v1M34 7v1M34 74v1M35 8v2M35 76v2M36 5v2M36 10v1M37 5v4M38 10v1M38 66v1M38 69v1M39 12v2M40 10v1M40 20v1M40 24v4M40 56v2M40 66v1M40 74v6M41 33v1M42 33v1M43 10v1M43 20v1M43 24v4M43 56v2M43 66v1M43 74v6M44 12v2M45 10v1M45 66v1M45 69v1M46 5v4M47 5v2M47 10v1M48 8v2M48 76v2M49 7v1M49 74v1M50 7v1M50 10v1M50 73v1M51 8v2M51 73v1M52 84v1M53 0v3M53 82v1M55 3v2M56 2v1M57 7v2M57 44v1M57 83v1M61 44v1M62 0v2M62 85v1M63 2v1M63 6v1M63 40v1M63 44v1M64 8v2M64 40v1M64 44v1M65 40v1M65 75v1M65 77v1M66 16v2M66 40v1M66 44v1M66 67v6M67 40v1M68 45v1M69 2v3M69 83v1M70 7v2M70 45v1M70 84v1M71 6v1M71 10v1M71 45v1M71 78v4M72 39v1M72 45v1M72 67v3M72 75v2M73 38v1M73 46v1M74 37v1M74 46v1M75 38v1M75 45v1M76 0v1M76 39v1M76 45v1M77 0v2M77 10v2M77 45v1M77 78v1M78 10v2M78 49v2M78 67v1M78 80v2M79 25v4M79 55v10M80 46v1M81 38v1M82 38v1M82 46v1M83 32v4M83 50v3"/>
<path stroke="#1d1147" d="M0 12v3M0 20v3M0 63v3M1 37v1M1 48v1M2 37v1M2 47v1M3 36v1M3 49v1M4 22v1M4 65v1M4 72v5M5 4v3M5 56v5M5 65v1M5 84v2M6 13v1M6 37v1M6 76v1M7 3v1M7 46v1M7 85v1M8 37v1M8 47v1M9 35v1M9 52v1M10 20v2M10 48v2M10 53v12M11 8v3M11 16v1M11 19v5M11 38v1M11 65v1M12 5v1M12 11v1M12 82v1M13 46v1M14 0v1M14 47v2M15 46v1M17 14v1M17 19v1M17 39v1M17 74v1M18 39v1M18 78v1M19 6v1M19 10v1M19 39v1M19 45v1M19 76v5M20 8v1M21 3v1M23 45v1M24 14v2M24 17v1M24 45v1M24 68v2M24 74v2M25 8v4M25 75v1M25 79v2M26 3v1M26 84v1M27 1v1M27 6v1M27 41v1M27 79v1M27 85v1M28 1v1M28 5v1M28 44v1M28 83v1M29 1v4M29 82v4M30 5v1M30 15v1M30 18v1M30 81v1M31 0v6M31 9v3M31 15v1M31 75v5M31 81v2M32 7v1M32 12v1M32 42v2M32 78v1M33 11v1M33 78v1M35 10v1M35 78v1M36 0v4M36 12v7M36 75v1M37 75v1M38 7v2M38 65v1M38 70v1M38 75v3M39 7v2M39 20v1M39 30v1M39 67v3M39 75v3M40 0v7M40 54v1M40 60v5M40 82v2M43 0v7M43 54v1M43 60v5M43 82v2M44 7v2M44 20v1M44 30v1M44 67v3M44 75v3M45 7v2M45 65v1M45 70v1M45 75v3M46 75v1M47 0v4M47 12v7M47 75v1M48 10v1M48 78v1M50 11v1M50 78v1M51 7v1M51 12v1M51 42v2M51 78v1M52 0v6M52 9v3M52 15v1M52 75v5M52 81v2M53 5v1M53 15v1M53 18v1M53 81v1M54 1v4M54 82v4M55 1v1M55 5v1M55 44v1M55 83v1M56 1v1M56 6v1M56 41v1M56 79v1M56 85v1M57 3v1M57 84v1M58 8v4M58 75v1M58 79v2M59 14v2M59 17v1M59 45v1M59 68v2M59 74v2M60 45v1M62 3v1M63 8v1M64 6v1M64 10v1M64 39v1M64 45v1M64 76v5M65 39v1M65 78v1M66 14v1M66 19v1M66 39v1M66 74v1M68 46v1M69 0v1M69 47v2M70 46v1M71 5v1M71 11v1M71 82v1M72 8v3M72 16v1M72 19v5M72 38v1M72 65v1M73 20v2M73 48v2M73 53v12M74 35v1M74 52v1M75 37v1M75 47v1M76 3v1M76 46v1M76 85v1M77 13v1M77 37v1M77 76v1M78 4v3M78 56v5M78 65v1M78 84v2M79 22v1M79 65v1M79 72v5M80 36v1M80 49v1M81 37v1M81 47v1M82 37v1M82 48v1M83 12v3M83 20v3M83 63v3"/>
<path stroke="#241253" d="M0 66v20M1 36v1M2 48v1M3 50v2M4 20v2M4 71v1M4 77v1M5 2v2M5 61v4M6 14v1M6 36v1M6 47v1M6 67v2M7 4v3M7 37v1M7 47v1M7 84v1M8 0v1M8 48v1M9 34v1M9 53v2M10 19v1M10 50v3M11 7v1M11 11v1M11 15v1M11 24v2M11 37v1M11 46v1M11 64v1M11 78v1M12 4v1M12 38v1M12 46v1M12 75v1M13 1v1M13 38v1M13 47v1M13 78v1M14 6v1M14 38v1M14 49v2M14 81v1M15 0v1M15 38v1M15 47v1M16 17v1M16 38v1M17 20v1M17 45v1M17 66v1M18 14v4M18 45v1M18 73v1M19 81v1M20 0v1M20 9v1M20 39v1M20 45v1M21 4v1M21 39v1M21 83v1M22 0v1M22 45v1M23 16v2M23 67v2M24 13v1M24 40v1M24 76v1M25 7v1M25 12v2M25 45v1M25 81v1M26 2v1M26 10v1M26 78v1M26 85v1M28 41v1M28 84v1M29 0v1M29 5v1M29 44v1M29 81v1M30 14v1M30 80v1M31 6v3M31 16v1M31 74v1M31 80v1M32 13v1M32 71v1M33 42v2M33 71v1M34 73v1M35 6v1M35 21v2M35 74v1M36 19v1M36 66v4M37 20v1M37 65v1M37 70v1M37 74v1M38 0v7M38 74v1M38 78v2M39 0v7M39 21v9M39 57v3M39 65v1M39 70v5M39 78v2M40 33v1M40 84v2M41 34v1M42 34v1M43 33v1M43 84v2M44 0v7M44 21v9M44 57v3M44 65v1M44 70v5M44 78v2M45 0v7M45 74v1M45 78v2M46 20v1M46 65v1M46 70v1M46 74v1M47 19v1M47 66v4M48 6v1M48 21v2M48 74v1M49 73v1M50 42v2M50 71v1M51 13v1M51 71v1M52 6v3M52 16v1M52 74v1M52 80v1M53 14v1M53 80v1M54 0v1M54 5v1M54 44v1M54 81v1M55 41v1M55 84v1M57 2v1M57 10v1M57 78v1M57 85v1M58 7v1M58 12v2M58 45v1M58 81v1M59 13v1M59 40v1M59 76v1M60 16v2M60 67v2M61 0v1M61 45v1M62 4v1M62 39v1M62 83v1M63 0v1M63 9v1M63 39v1M63 45v1M64 81v1M65 14v4M65 45v1M65 73v1M66 20v1M66 45v1M66 66v1M67 17v1M67 38v1M68 0v1M68 38v1M68 47v1M69 6v1M69 38v1M69 49v2M69 81v1M70 1v1M70 38v1M70 47v1M70 78v1M71 4v1M71 38v1M71 46v1M71 75v1M72 7v1M72 11v1M72 15v1M72 24v2M72 37v1M72 46v1M72 64v1M72 78v1M73 19v1M73 50v3M74 34v1M74 53v2M75 0v1M75 48v1M76 4v3M76 37v1M76 47v1M76 84v1M77 14v1M77 36v1M77 47v1M77 67v2M78 2v2M78 61v4M79 20v2M79 71v1M79 77v1M80 50v2M81 48v1M82 36v1M83 66v20"/>
<path stroke="#2c115f" d="M1 49v2M2 36v1M2 49v1M3 35v1M3 52v1M4 19v1M4 70v1M4 78v1M5 1v1M6 15v8M6 34v2M6 48v1M6 69v1M6 75v1M7 7v2M7 48v1M7 83v1M8 1v1M8 36v1M8 49v1M9 31v3M9 55v6M10 17v2M10 65v1M10 71v3M11 12v3M11 26v11M11 63v1M12 12v1M12 37v1M13 10v1M13 37v1M13 48v1M14 37v1M14 51v1M14 80v1M15 37v1M15 48v3M15 85v1M16 16v1M16 18v5M16 46v1M17 13v1M17 21v1M17 75v1M18 12v2M18 18v1M18 68v5M19 5v1M19 46v1M19 75v1M19 82v1M20 78v1M21 5v1M21 45v1M22 39v1M23 15v1M23 18v1M23 66v1M23 69v1M24 12v1M24 18v1M24 67v1M24 77v1M25 6v1M25 14v1M25 40v1M25 74v1M25 82v1M26 1v1M27 7v1M28 64v1M28 79v1M28 85v1M29 65v4M29 80v1M30 6v1M30 13v1M30 19v1M30 66v3M30 79v1M31 72v2M32 6v1M32 14v1M32 79v1M33 6v1M34 6v1M34 11v1M34 21v2M35 11v1M35 20v1M35 79v1M36 20v1M36 74v1M38 20v1M38 71v1M38 73v1M38 80v1M39 56v1M39 60v1M39 80v1M44 56v1M44 60v1M44 80v1M45 20v1M45 71v1M45 73v1M45 80v1M47 20v1M47 74v1M48 11v1M48 20v1M48 79v1M49 6v1M49 11v1M49 21v2M50 6v1M51 6v1M51 14v1M51 79v1M52 72v2M53 6v1M53 13v1M53 19v1M53 66v3M53 79v1M54 65v4M54 80v1M55 64v1M55 79v1M55 85v1M56 7v1M57 1v1M58 6v1M58 14v1M58 40v1M58 74v1M58 82v1M59 12v1M59 18v1M59 67v1M59 77v1M60 15v1M60 18v1M60 66v1M60 69v1M61 39v1M62 5v1M62 45v1M63 78v1M64 5v1M64 46v1M64 75v1M64 82v1M65 12v2M65 18v1M65 68v5M66 13v1M66 21v1M66 75v1M67 16v1M67 18v5M67 46v1M68 37v1M68 48v3M68 85v1M69 37v1M69 51v1M69 80v1M70 10v1M70 37v1M70 48v1M71 12v1M71 37v1M72 12v3M72 26v11M72 63v1M73 17v2M73 65v1M73 71v3M74 31v3M74 55v6M75 1v1M75 36v1M75 49v1M76 7v2M76 48v1M76 83v1M77 15v8M77 34v2M77 48v1M77 69v1M77 75v1M78 1v1M79 19v1M79 70v1M79 78v1M80 35v1M80 52v1M81 36v1M81 49v1M82 49v2"/>
<path stroke="#36106b" d="M1 34v2M1 51v3M2 50v1M3 34v1M3 53v8M4 17v2M4 66v1M4 79v1M5 0v1M6 23v4M6 32v2M6 49v1M6 66v1M6 74v1M7 9v1M7 36v1M7 49v1M8 2v1M8 50v2M9 28v3M9 61v1M10 16v1M10 74v2M11 6v1M11 47v1M11 61v2M11 79v1M12 3v1M12 13v1M12 36v1M12 47v1M12 67v2M12 74v1M12 83v1M13 36v1M13 49v1M13 77v1M14 7v1M14 36v1M14 52v1M15 1v1M15 36v1M15 51v3M15 84v1M16 15v1M16 23v1M16 37v1M16 64v5M17 12v1M17 38v1M17 46v1M17 65v1M17 76v1M18 10v2M18 38v1M18 46v1M18 67v1M19 4v1M19 11v1M19 38v1M20 38v1M20 46v1M21 38v1M22 1v1M23 39v1M23 70v1M24 11v1M24 78v1M25 15v1M25 73v1M25 83v1M26 11v1M26 40v1M26 45v1M28 0v1M28 6v1M28 65v1M29 16v3M29 41v1M30 12v1M30 44v1M30 69v1M31 17v1M31 71v1M32 64v1M33 12v1M33 64v1M33 79v1M34 20v1M34 23v1M34 42v2M34 72v1M34 79v1M35 5v1M35 12v1M35 19v1M35 23v1M35 73v1M36 21v1M36 65v1M36 70v1M37 21v1M37 64v1M37 71v1M37 73v1M38 21v1M38 64v1M38 72v1M38 81v5M39 61v1M39 64v1M39 81v1M40 34v1M40 53v1M41 35v1M41 51v1M42 35v1M42 51v1M43 34v1M43 53v1M44 61v1M44 64v1M44 81v1M45 21v1M45 64v1M45 72v1M45 81v5M46 21v1M46 64v1M46 71v1M46 73v1M47 21v1M47 65v1M47 70v1M48 5v1M48 12v1M48 19v1M48 23v1M48 73v1M49 20v1M49 23v1M49 42v2M49 72v1M49 79v1M50 12v1M50 64v1M50 79v1M51 64v1M52 17v1M52 71v1M53 12v1M53 44v1M53 69v1M54 16v3M54 41v1M55 0v1M55 6v1M55 65v1M57 11v1M57 40v1M57 45v1M58 15v1M58 73v1M58 83v1M59 11v1M59 78v1M60 39v1M60 70v1M61 1v1M62 38v1M63 38v1M63 46v1M64 4v1M64 11v1M64 38v1M65 10v2M65 38v1M65 46v1M65 67v1M66 12v1M66 38v1M66 46v1M66 65v1M66 76v1M67 15v1M67 23v1M67 37v1M67 64v5M68 1v1M68 36v1M68 51v3M68 84v1M69 7v1M69 36v1M69 52v1M70 36v1M70 49v1M70 77v1M71 3v1M71 13v1M71 36v1M71 47v1M71 67v2M71 74v1M71 83v1M72 6v1M72 47v1M72 61v2M72 79v1M73 16v1M73 74v2M74 28v3M74 61v1M75 2v1M75 50v2M76 9v1M76 36v1M76 49v1M77 23v4M77 32v2M77 49v1M77 66v1M77 74v1M78 0v1M79 17v2M79 66v1M79 79v1M80 34v1M80 53v8M81 50v1M82 34v2M82 51v3"/>
<path stroke="#3f0f72" d="M1 0v3M1 30v4M1 54v5M2 35v1M2 51v4M3 32v2M3 61v2M4 16v1M4 69v1M4 80v2M6 27v5M6 50v6M6 65v1M6 70v1M7 50v1M7 82v1M8 3v1M8 35v1M8 52v1M9 26v2M9 62v1M10 15v1M10 66v1M10 70v1M10 76v1M11 48v1M11 54v7M12 14v2M12 34v2M12 69v1M13 0v1M13 35v1M13 50v1M14 35v1M14 53v1M14 79v1M15 2v1M15 35v1M15 54v4M16 36v1M16 47v1M16 62v2M16 69v4M17 22v1M17 37v1M17 77v1M18 9v1M18 19v1M18 79v1M19 3v1M19 47v1M19 74v1M19 83v1M20 10v1M20 77v1M21 6v1M21 82v1M22 2v1M22 38v1M22 85v1M23 14v1M23 46v1M23 71v1M24 39v1M24 46v1M24 79v1M25 5v1M25 16v1M26 0v1M26 77v1M27 0v1M27 8v1M27 64v1M27 78v1M29 6v1M29 15v1M29 19v1M29 64v1M29 69v1M29 79v1M30 7v1M30 10v2M30 65v1M30 78v1M31 18v1M31 70v1M32 5v1M32 62v2M32 70v1M32 80v1M33 13v1M33 21v1M33 61v3M34 61v4M35 4v1M35 13v1M35 18v1M35 80v2M36 22v1M36 71v1M36 73v1M37 22v1M37 72v1M38 22v3M39 55v1M39 62v2M39 82v1M44 55v1M44 62v2M44 82v1M45 22v3M46 22v1M46 72v1M47 22v1M47 71v1M47 73v1M48 4v1M48 13v1M48 18v1M48 80v2M49 61v4M50 13v1M50 21v1M50 61v3M51 5v1M51 62v2M51 70v1M51 80v1M52 18v1M52 70v1M53 7v1M53 10v2M53 65v1M53 78v1M54 6v1M54 15v1M54 19v1M54 64v1M54 69v1M54 79v1M56 0v1M56 8v1M56 64v1M56 78v1M57 0v1M57 77v1M58 5v1M58 16v1M59 39v1M59 46v1M59 79v1M60 14v1M60 46v1M60 71v1M61 2v1M61 38v1M61 85v1M62 6v1M62 82v1M63 10v1M63 77v1M64 3v1M64 47v1M64 74v1M64 83v1M65 9v1M65 19v1M65 79v1M66 22v1M66 37v1M66 77v1M67 36v1M67 47v1M67 62v2M67 69v4M68 2v1M68 35v1M68 54v4M69 35v1M69 53v1M69 79v1M70 0v1M70 35v1M70 50v1M71 14v2M71 34v2M71 69v1M72 48v1M72 54v7M73 15v1M73 66v1M73 70v1M73 76v1M74 26v2M74 62v1M75 3v1M75 35v1M75 52v1M76 50v1M76 82v1M77 27v5M77 50v6M77 65v1M77 70v1M79 16v1M79 69v1M79 80v2M80 32v2M80 61v2M81 35v1M81 51v4M82 0v3M82 30v4M82 54v5"/>
<path stroke="#471078" d="M1 3v4M1 27v3M1 59v2M2 34v1M2 55v4M3 30v2M3 63v1M4 15v1M4 67v2M4 82v3M6 56v2M6 71v3M7 10v1M7 35v1M7 51v2M7 81v1M8 4v2M8 34v1M8 53v1M9 25v1M9 63v1M10 69v1M10 77v1M11 5v1M11 53v1M11 80v1M12 2v1M12 16v7M12 32v2M12 48v1M12 66v1M12 70v1M12 73v1M13 34v1M13 51v1M14 8v1M14 34v1M14 54v1M15 3v1M15 34v1M15 58v4M16 14v1M16 24v1M16 35v1M16 48v1M16 54v8M16 73v1M17 11v1M17 23v1M17 36v1M17 47v1M18 8v1M18 36v2M18 47v1M19 2v1M19 12v1M19 37v1M19 48v1M20 37v1M20 47v1M21 7v1M21 37v1M21 46v1M21 81v1M22 37v1M22 46v1M23 13v1M23 38v1M23 72v1M24 10v1M24 66v1M24 80v1M25 0v5M25 17v1M25 72v1M25 84v2M26 12v1M27 9v1M27 40v1M27 45v1M30 8v2M30 20v1M30 41v1M30 70v1M30 77v1M31 19v1M31 62v4M31 69v1M32 3v2M32 15v1M32 81v1M33 5v1M33 20v1M33 22v2M33 70v1M34 12v1M34 19v1M34 24v1M34 60v1M34 65v1M34 71v1M35 3v1M35 14v4M35 24v1M35 65v8M35 82v4M36 23v1M36 72v1M37 23v1M38 25v3M38 58v4M39 32v1M39 83v1M44 32v1M44 83v1M45 25v3M45 58v4M46 23v1M47 23v1M47 72v1M48 3v1M48 14v4M48 24v1M48 65v8M48 82v4M49 12v1M49 19v1M49 24v1M49 60v1M49 65v1M49 71v1M50 5v1M50 20v1M50 22v2M50 70v1M51 3v2M51 15v1M51 81v1M52 19v1M52 62v4M52 69v1M53 8v2M53 20v1M53 41v1M53 70v1M53 77v1M56 9v1M56 40v1M56 45v1M57 12v1M58 0v5M58 17v1M58 72v1M58 84v2M59 10v1M59 66v1M59 80v1M60 13v1M60 38v1M60 72v1M61 37v1M61 46v1M62 7v1M62 37v1M62 46v1M62 81v1M63 37v1M63 47v1M64 2v1M64 12v1M64 37v1M64 48v1M65 8v1M65 36v2M65 47v1M66 11v1M66 23v1M66 36v1M66 47v1M67 14v1M67 24v1M67 35v1M67 48v1M67 54v8M67 73v1M68 3v1M68 34v1M68 58v4M69 8v1M69 34v1M69 54v1M70 34v1M70 51v1M71 2v1M71 16v7M71 32v2M71 48v1M71 66v1M71 70v1M71 73v1M72 5v1M72 53v1M72 80v1M73 69v1M73 77v1M74 25v1M74 63v1M75 4v2M75 34v1M75 53v1M76 10v1M76 35v1M76 51v2M76 81v1M77 56v2M77 71v3M79 15v1M79 67v2M79 82v3M80 30v2M80 63v1M81 34v1M81 55v4M82 3v4M82 27v3M82 59v2"/>
<path stroke="#51127c" d="M1 7v2M1 25v2M1 61v2M1 84v2M2 32v2M2 59v2M3 27v3M3 64v1M4 12v3M4 85v1M6 58v1M6 61v4M7 33v2M7 53v2M7 80v1M8 6v1M8 32v2M8 54v3M9 24v1M10 8v7M10 67v2M11 49v1M11 52v1M12 23v1M12 31v1M12 71v2M12 84v1M13 11v1M13 33v1M13 52v1M13 76v1M14 32v2M14 55v2M14 78v1M15 17v2M15 32v2M15 62v2M15 83v1M16 13v1M16 25v2M16 32v3M16 53v1M16 74v1M17 35v1M17 64v1M18 7v1M18 20v1M18 35v1M18 48v1M18 66v1M19 1v1M19 13v3M19 36v1M19 49v1M19 84v1M20 36v1M20 48v1M20 76v1M21 36v1M21 80v1M22 3v1M22 16v2M22 64v2M22 84v1M23 0v1M23 19v1M23 73v1M24 0v1M24 9v1M24 19v1M24 81v1M25 18v1M25 39v1M25 46v1M25 71v1M26 13v2M26 76v1M27 10v1M28 7v1M28 63v1M28 78v1M29 7v1M29 14v1M29 20v1M29 63v1M29 70v1M29 78v1M30 63v2M30 71v1M30 75v2M31 44v1M31 66v3M32 0v3M32 16v1M32 61v1M32 65v1M32 82v4M33 14v1M33 19v1M33 24v1M33 60v1M33 65v1M34 5v1M34 13v1M34 70v1M34 80v1M35 2v1M35 42v2M35 60v5M36 24v1M36 64v1M37 24v1M38 28v2M38 31v1M38 57v1M38 62v2M39 84v2M41 50v1M42 50v1M44 84v2M45 28v2M45 31v1M45 57v1M45 62v2M46 24v1M47 24v1M47 64v1M48 2v1M48 42v2M48 60v5M49 5v1M49 13v1M49 70v1M49 80v1M50 14v1M50 19v1M50 24v1M50 60v1M50 65v1M51 0v3M51 16v1M51 61v1M51 65v1M51 82v4M52 44v1M52 66v3M53 63v2M53 71v1M53 75v2M54 7v1M54 14v1M54 20v1M54 63v1M54 70v1M54 78v1M55 7v1M55 63v1M55 78v1M56 10v1M57 13v2M57 76v1M58 18v1M58 39v1M58 46v1M58 71v1M59 0v1M59 9v1M59 19v1M59 81v1M60 0v1M60 19v1M60 73v1M61 3v1M61 16v2M61 64v2M61 84v1M62 36v1M62 80v1M63 36v1M63 48v1M63 76v1M64 1v1M64 13v3M64 36v1M64 49v1M64 84v1M65 7v1M65 20v1M65 35v1M65 48v1M65 66v1M66 35v1M66 64v1M67 13v1M67 25v2M67 32v3M67 53v1M67 74v1M68 17v2M68 32v2M68 62v2M68 83v1M69 32v2M69 55v2M69 78v1M70 11v1M70 33v1M70 52v1M70 76v1M71 23v1M71 31v1M71 71v2M71 84v1M72 49v1M72 52v1M73 8v7M73 67v2M74 24v1M75 6v1M75 32v2M75 54v3M76 33v2M76 53v2M76 80v1M77 58v1M77 61v4M79 12v3M79 85v1M80 27v3M80 64v1M81 32v2M81 59v2M82 7v2M82 25v2M82 61v2M82 84v2"/>
<path stroke="#59157e" d="M1 9v3M1 23v2M1 63v1M1 82v2M2 0v4M2 30v2M2 61v1M3 23v4M4 0v12M6 59v2M7 11v1M7 32v1M7 55v1M7 79v1M8 7v1M8 31v1M8 57v3M9 23v1M9 64v1M10 6v2M10 78v1M11 4v1M11 50v2M11 81v1M12 24v7M12 49v1M12 65v1M13 32v1M13 53v1M14 9v1M14 31v1M14 57v2M15 4v2M15 16v1M15 19v13M15 64v1M16 12v1M16 27v5M16 49v4M16 75v1M17 24v1M17 33v2M17 48v1M17 63v1M17 78v1M18 34v1M18 80v1M19 16v2M19 35v1M19 50v1M19 73v1M19 85v1M20 11v1M20 35v1M20 49v2M21 8v1M21 47v1M22 4v1M22 15v1M22 18v1M22 36v1M22 47v1M22 63v1M23 1v1M23 12v1M23 37v1M23 47v1M23 74v1M24 1v1M24 8v1M24 38v1M24 82v2M25 70v1M26 15v2M27 11v1M27 63v1M27 65v1M28 16v3M28 45v1M28 66v1M29 12v2M29 21v1M30 62v1M30 72v3M31 20v1M31 41v1M32 17v3M33 15v1M33 18v1M33 25v1M33 80v1M34 14v1M34 18v1M34 25v1M34 59v1M35 0v2M35 25v1M36 60v4M37 25v1M37 63v1M38 30v1M39 54v1M44 54v1M45 30v1M46 25v1M46 63v1M47 60v4M48 0v2M48 25v1M49 14v1M49 18v1M49 25v1M49 59v1M50 15v1M50 18v1M50 25v1M50 80v1M51 17v3M52 20v1M52 41v1M53 62v1M53 72v3M54 12v2M54 21v1M55 16v3M55 45v1M55 66v1M56 11v1M56 63v1M56 65v1M57 15v2M58 70v1M59 1v1M59 8v1M59 38v1M59 82v2M60 1v1M60 12v1M60 37v1M60 47v1M60 74v1M61 4v1M61 15v1M61 18v1M61 36v1M61 47v1M61 63v1M62 8v1M62 47v1M63 11v1M63 35v1M63 49v2M64 16v2M64 35v1M64 50v1M64 73v1M64 85v1M65 34v1M65 80v1M66 24v1M66 33v2M66 48v1M66 63v1M66 78v1M67 12v1M67 27v5M67 49v4M67 75v1M68 4v2M68 16v1M68 19v13M68 64v1M69 9v1M69 31v1M69 57v2M70 32v1M70 53v1M71 24v7M71 49v1M71 65v1M72 4v1M72 50v2M72 81v1M73 6v2M73 78v1M74 23v1M74 64v1M75 7v1M75 31v1M75 57v3M76 11v1M76 32v1M76 55v1M76 79v1M77 59v2M79 0v12M80 23v4M81 0v4M81 30v2M81 61v1M82 9v3M82 23v2M82 63v1M82 82v2"/>
<path stroke="#601880" d="M1 12v11M1 64v1M1 77v5M2 4v2M2 27v3M2 62v1M2 85v1M3 0v5M3 20v3M3 65v1M3 75v11M7 12v1M7 30v2M7 56v3M7 78v1M8 8v1M8 28v3M8 60v1M9 0v9M9 21v2M10 5v1M12 1v1M12 50v12M12 64v1M12 85v1M13 12v1M13 15v4M13 30v2M13 54v2M13 75v1M14 10v1M14 17v1M14 29v2M14 59v2M14 77v1M15 6v1M15 15v1M15 65v1M15 82v1M16 0v1M17 10v1M17 25v3M17 32v1M17 49v1M17 61v2M18 6v1M18 21v1M18 33v1M18 49v1M19 0v1M19 18v1M19 51v1M20 34v1M20 51v1M20 75v1M21 9v1M21 35v1M21 48v1M21 63v2M21 79v1M22 14v1M22 19v1M22 35v1M22 62v1M22 66v1M23 36v1M23 65v1M23 75v1M23 84v2M24 2v1M24 6v2M24 37v1M24 47v1M24 84v2M25 38v1M25 69v1M26 17v1M26 39v1M26 46v1M26 64v1M26 75v1M27 12v4M28 8v3M28 14v2M28 19v2M28 40v1M28 67v1M29 8v4M29 71v1M29 77v1M30 21v1M31 21v1M31 61v1M32 20v3M32 44v1M32 60v1M32 69v1M33 4v1M33 16v2M33 59v1M33 69v1M34 4v1M34 15v1M34 17v1M34 66v1M34 69v1M35 59v1M36 25v1M36 59v1M37 26v1M37 58v5M38 56v1M40 52v1M41 49v1M42 49v1M43 52v1M45 56v1M46 26v1M46 58v5M47 25v1M47 59v1M48 59v1M49 4v1M49 15v1M49 17v1M49 66v1M49 69v1M50 4v1M50 16v2M50 59v1M50 69v1M51 20v3M51 44v1M51 60v1M51 69v1M52 21v1M52 61v1M53 21v1M54 8v4M54 71v1M54 77v1M55 8v3M55 14v2M55 19v2M55 40v1M55 67v1M56 12v4M57 17v1M57 39v1M57 46v1M57 64v1M57 75v1M58 38v1M58 69v1M59 2v1M59 6v2M59 37v1M59 47v1M59 84v2M60 36v1M60 65v1M60 75v1M60 84v2M61 14v1M61 19v1M61 35v1M61 62v1M61 66v1M62 9v1M62 35v1M62 48v1M62 63v2M62 79v1M63 34v1M63 51v1M63 75v1M64 0v1M64 18v1M64 51v1M65 6v1M65 21v1M65 33v1M65 49v1M66 10v1M66 25v3M66 32v1M66 49v1M66 61v2M67 0v1M68 6v1M68 15v1M68 65v1M68 82v1M69 10v1M69 17v1M69 29v2M69 59v2M69 77v1M70 12v1M70 15v4M70 30v2M70 54v2M70 75v1M71 1v1M71 50v12M71 64v1M71 85v1M73 5v1M74 0v9M74 21v2M75 8v1M75 28v3M75 60v1M76 12v1M76 30v2M76 56v3M76 78v1M80 0v5M80 20v3M80 65v1M80 75v11M81 4v2M81 27v3M81 62v1M81 85v1M82 12v11M82 64v1M82 77v5"/>
<path stroke="#6a1c81" d="M1 65v1M1 75v2M2 6v2M2 25v2M2 63v1M2 82v3M3 5v2M3 19v1M3 73v2M7 13v17M7 59v2M7 77v1M8 9v1M8 26v2M8 61v1M9 9v1M9 18v3M9 65v1M9 72v3M10 4v1M10 79v1M11 3v1M11 82v1M12 62v2M13 13v2M13 19v4M13 28v2M13 56v4M14 15v2M14 18v3M14 24v5M14 61v1M15 7v2M15 14v1M15 66v1M15 81v1M16 1v1M16 11v1M16 76v1M17 28v4M17 50v11M18 5v1M18 22v1M18 32v1M18 50v1M18 65v1M18 81v1M19 34v1M19 52v1M19 72v1M20 12v1M20 14v4M20 52v1M20 74v1M21 10v2M21 16v2M21 34v1M21 49v2M21 60v3M21 78v1M22 5v1M22 13v1M22 20v1M22 48v1M22 67v1M22 83v1M23 2v1M23 11v1M23 20v1M23 35v1M23 48v1M23 76v1M23 83v1M24 3v3M24 36v1M24 48v1M25 19v1M25 47v1M25 68v1M26 18v1M26 74v1M27 16v4M27 62v1M27 77v1M28 11v3M28 21v1M28 62v1M28 68v2M28 77v1M29 22v1M29 62v1M29 72v5M30 61v1M31 22v1M32 23v2M32 66v1M33 3v1M33 26v1M33 81v1M34 16v1M34 26v1M34 67v2M34 81v1M35 26v1M36 26v1M36 58v1M37 27v2M40 35v1M43 35v1M46 27v2M47 26v1M47 58v1M48 26v1M49 16v1M49 26v1M49 67v2M49 81v1M50 3v1M50 26v1M50 81v1M51 23v2M51 66v1M52 22v1M53 61v1M54 22v1M54 62v1M54 72v5M55 11v3M55 21v1M55 62v1M55 68v2M55 77v1M56 16v4M56 62v1M56 77v1M57 18v1M57 74v1M58 19v1M58 47v1M58 68v1M59 3v3M59 36v1M59 48v1M60 2v1M60 11v1M60 20v1M60 35v1M60 48v1M60 76v1M60 83v1M61 5v1M61 13v1M61 20v1M61 48v1M61 67v1M61 83v1M62 10v2M62 16v2M62 34v1M62 49v2M62 60v3M62 78v1M63 12v1M63 14v4M63 52v1M63 74v1M64 34v1M64 52v1M64 72v1M65 5v1M65 22v1M65 32v1M65 50v1M65 65v1M65 81v1M66 28v4M66 50v11M67 1v1M67 11v1M67 76v1M68 7v2M68 14v1M68 66v1M68 81v1M69 15v2M69 18v3M69 24v5M69 61v1M70 13v2M70 19v4M70 28v2M70 56v4M71 62v2M72 3v1M72 82v1M73 4v1M73 79v1M74 9v1M74 18v3M74 65v1M74 72v3M75 9v1M75 26v2M75 61v1M76 13v17M76 59v2M76 77v1M80 5v2M80 19v1M80 73v2M81 6v2M81 25v2M81 63v1M81 82v3M82 65v1M82 75v2"/>
<path stroke="#721f81" d="M1 66v1M1 74v1M2 8v2M2 23v2M2 64v1M2 78v4M3 7v1M3 17v2M3 72v1M7 61v3M7 76v1M8 10v1M8 24v2M8 62v1M8 84v2M9 10v2M9 16v2M9 71v1M9 75v3M10 3v1M12 0v1M13 23v5M13 60v1M14 11v1M14 14v1M14 21v3M14 62v2M14 76v1M15 9v5M15 67v2M15 80v1M16 2v1M16 10v1M16 77v1M17 9v1M17 79v1M18 23v1M18 51v2M18 82v1M19 19v1M19 33v1M19 53v1M19 70v2M20 13v1M20 18v1M20 33v1M20 53v1M21 12v4M21 18v2M21 33v1M21 51v2M21 58v2M21 65v1M21 77v1M22 6v1M22 11v2M22 21v1M22 34v1M22 49v2M22 61v1M22 68v2M23 3v1M23 34v1M23 77v6M24 20v1M25 37v1M25 67v1M26 19v2M26 38v1M26 63v1M26 73v1M27 20v2M27 39v1M27 46v1M28 22v1M28 70v1M28 76v1M29 40v1M29 45v1M30 22v1M31 23v1M31 60v1M32 25v1M32 59v1M32 67v2M33 0v3M33 66v1M33 82v1M34 2v2M34 58v1M34 82v1M35 58v1M36 27v1M36 42v2M37 29v1M37 57v1M38 55v1M39 33v1M41 36v1M42 36v1M44 33v1M45 55v1M46 29v1M46 57v1M47 27v1M47 42v2M48 58v1M49 2v2M49 58v1M49 82v1M50 0v3M50 66v1M50 82v1M51 25v1M51 59v1M51 67v2M52 23v1M52 60v1M53 22v1M54 40v1M54 45v1M55 22v1M55 70v1M55 76v1M56 20v2M56 39v1M56 46v1M57 19v2M57 38v1M57 63v1M57 73v1M58 37v1M58 67v1M59 20v1M60 3v1M60 34v1M60 77v6M61 6v1M61 11v2M61 21v1M61 34v1M61 49v2M61 61v1M61 68v2M62 12v4M62 18v2M62 33v1M62 51v2M62 58v2M62 65v1M62 77v1M63 13v1M63 18v1M63 33v1M63 53v1M64 19v1M64 33v1M64 53v1M64 70v2M65 23v1M65 51v2M65 82v1M66 9v1M66 79v1M67 2v1M67 10v1M67 77v1M68 9v5M68 67v2M68 80v1M69 11v1M69 14v1M69 21v3M69 62v2M69 76v1M70 23v5M70 60v1M71 0v1M73 3v1M74 10v2M74 16v2M74 71v1M74 75v3M75 10v1M75 24v2M75 62v1M75 84v2M76 61v3M76 76v1M80 7v1M80 17v2M80 72v1M81 8v2M81 23v2M81 64v1M81 78v4M82 66v1M82 74v1"/>
<path stroke="#792282" d="M1 67v7M2 10v1M2 20v3M2 76v2M3 8v3M3 15v2M3 66v1M3 71v1M7 64v2M7 75v1M8 11v1M8 23v1M8 63v1M8 82v2M9 12v4M9 66v1M9 70v1M9 78v1M10 2v1M10 80v1M11 2v1M13 61v3M13 74v1M14 12v2M14 64v1M14 75v1M15 69v11M16 3v7M16 78v1M16 85v1M17 7v2M18 4v1M18 24v8M18 53v4M18 64v1M19 20v1M19 32v1M19 54v1M19 68v2M20 19v1M20 32v1M20 54v5M20 73v1M21 20v2M21 53v5M21 76v1M22 7v1M22 9v2M22 22v1M22 33v1M22 51v1M22 58v3M22 70v2M23 4v3M23 10v1M23 21v1M23 49v1M24 35v1M25 20v1M25 36v1M26 21v1M26 65v1M27 22v2M27 75v2M28 23v1M28 71v5M29 23v1M30 23v1M32 26v1M32 41v1M33 27v1M33 58v1M33 67v2M34 0v2M34 27v1M35 27v1M36 28v1M37 30v2M37 56v1M39 53v1M41 48v1M42 48v1M44 53v1M46 30v2M46 56v1M47 28v1M48 27v1M49 0v2M49 27v1M50 27v1M50 58v1M50 67v2M51 26v1M51 41v1M53 23v1M54 23v1M55 23v1M55 71v5M56 22v2M56 75v2M57 21v1M57 65v1M58 20v1M58 36v1M59 35v1M60 4v3M60 10v1M60 21v1M60 49v1M61 7v1M61 9v2M61 22v1M61 33v1M61 51v1M61 58v3M61 70v2M62 20v2M62 53v5M62 76v1M63 19v1M63 32v1M63 54v5M63 73v1M64 20v1M64 32v1M64 54v1M64 68v2M65 4v1M65 24v8M65 53v4M65 64v1M66 7v2M67 3v7M67 78v1M67 85v1M68 69v11M69 12v2M69 64v1M69 75v1M70 61v3M70 74v1M72 2v1M73 2v1M73 80v1M74 12v4M74 66v1M74 70v1M74 78v1M75 11v1M75 23v1M75 63v1M75 82v2M76 64v2M76 75v1M80 8v3M80 15v2M80 66v1M80 71v1M81 10v1M81 20v3M81 76v2M82 67v7"/>
<path stroke="#832681" d="M2 11v9M2 65v1M2 75v1M3 11v4M3 69v2M7 66v2M8 12v1M8 15v8M8 64v1M8 76v6M9 69v1M10 1v1M11 1v1M11 83v1M13 64v2M14 65v1M14 74v1M16 79v1M16 83v2M17 0v2M17 5v2M17 80v1M18 2v2M18 57v7M18 83v1M19 21v2M19 29v3M19 55v2M19 67v1M20 20v1M20 24v5M20 31v1M20 59v3M20 71v2M21 22v6M21 32v1M21 66v1M21 72v4M22 8v1M22 23v1M22 52v3M22 56v2M22 72v2M22 82v1M23 7v3M23 22v1M23 33v1M23 50v2M24 34v1M24 49v1M24 65v1M25 21v1M25 35v1M25 48v1M26 22v1M26 47v1M26 62v1M26 71v2M27 24v1M27 61v1M27 66v1M27 72v3M28 24v1M28 61v1M29 61v1M30 60v1M31 24v1M33 44v1M33 83v2M34 83v1M35 57v1M36 29v1M36 57v1M38 32v1M45 32v1M47 29v1M47 57v1M48 57v1M49 83v1M50 44v1M50 83v2M52 24v1M53 60v1M54 61v1M55 24v1M55 61v1M56 24v1M56 61v1M56 66v1M56 72v3M57 22v1M57 47v1M57 62v1M57 71v2M58 21v1M58 35v1M58 48v1M59 34v1M59 49v1M59 65v1M60 7v3M60 22v1M60 33v1M60 50v2M61 8v1M61 23v1M61 52v3M61 56v2M61 72v2M61 82v1M62 22v6M62 32v1M62 66v1M62 72v4M63 20v1M63 24v5M63 31v1M63 59v3M63 71v2M64 21v2M64 29v3M64 55v2M64 67v1M65 2v2M65 57v7M65 83v1M66 0v2M66 5v2M66 80v1M67 79v1M67 83v2M69 65v1M69 74v1M70 64v2M72 1v1M72 83v1M73 1v1M74 69v1M75 12v1M75 15v8M75 64v1M75 76v6M76 66v2M80 11v4M80 69v2M81 11v9M81 65v1M81 75v1"/>
<path stroke="#8b2981" d="M2 66v1M2 74v1M3 67v2M7 68v2M7 74v1M8 13v2M8 65v1M8 75v1M9 67v2M9 79v1M10 0v1M10 81v1M13 66v5M13 73v1M14 66v1M14 73v1M16 80v3M17 2v3M17 81v1M18 0v2M19 23v6M19 57v5M19 65v2M20 21v3M20 29v2M20 62v4M20 70v1M21 28v4M21 67v1M21 69v3M22 24v1M22 29v4M22 55v1M22 74v3M23 23v1M23 32v1M23 52v2M23 63v2M24 21v1M24 33v1M24 50v1M25 49v1M25 64v3M26 23v2M26 37v1M26 70v1M27 25v1M27 38v1M27 67v5M28 39v1M28 46v1M29 24v1M30 24v1M30 45v1M31 25v1M31 59v1M32 27v1M32 58v1M33 85v1M34 57v1M34 84v2M35 28v1M40 51v1M43 51v1M48 28v1M49 57v1M49 84v2M50 85v1M51 27v1M51 58v1M52 25v1M52 59v1M53 24v1M53 45v1M54 24v1M55 39v1M55 46v1M56 25v1M56 38v1M56 67v5M57 23v2M57 37v1M57 70v1M58 49v1M58 64v3M59 21v1M59 33v1M59 50v1M60 23v1M60 32v1M60 52v2M60 63v2M61 24v1M61 29v4M61 55v1M61 74v3M62 28v4M62 67v1M62 69v3M63 21v3M63 29v2M63 62v4M63 70v1M64 23v6M64 57v5M64 65v2M65 0v2M66 2v3M66 81v1M67 80v3M69 66v1M69 73v1M70 66v5M70 73v1M73 0v1M73 81v1M74 67v2M74 79v1M75 13v2M75 65v1M75 75v1M76 68v2M76 74v1M80 67v2M81 66v1M81 74v1"/>
<path stroke="#932b80" d="M2 67v7M7 70v4M8 74v1M9 80v1M11 0v1M13 71v2M14 67v6M17 82v1M18 84v2M19 62v3M20 66v4M21 68v1M22 25v4M22 77v5M23 24v8M23 54v3M23 62v1M24 22v2M24 32v1M24 51v2M25 22v2M25 34v1M25 50v1M25 63v1M26 25v1M26 36v1M26 48v1M26 61v1M26 66v4M27 26v1M27 47v1M28 25v1M29 60v1M30 40v1M30 59v1M31 26v1M33 28v1M33 41v1M34 28v1M36 30v1M36 56v1M37 55v1M38 54v1M45 54v1M46 55v1M47 30v1M47 56v1M49 28v1M50 28v1M50 41v1M52 26v1M53 40v1M53 59v1M54 60v1M55 25v1M56 26v1M56 47v1M57 25v1M57 36v1M57 48v1M57 61v1M57 66v4M58 22v2M58 34v1M58 50v1M58 63v1M59 22v2M59 32v1M59 51v2M60 24v8M60 54v3M60 62v1M61 25v4M61 77v5M62 68v1M63 66v4M64 62v3M65 84v2M66 82v1M69 67v6M70 71v2M72 0v1M74 80v1M75 74v1M76 70v4M81 67v7"/>
<path stroke="#9c2e7f" d="M8 66v1M8 69v5M9 81v2M10 82v1M11 84v1M17 83v3M23 57v5M24 24v8M24 53v3M25 24v1M25 32v2M25 51v2M25 62v1M26 26v1M26 35v1M26 49v2M27 27v1M27 37v1M27 60v1M28 26v1M28 60v1M29 25v1M29 46v1M30 25v1M31 58v1M33 57v1M35 29v1M41 37v1M42 37v1M48 29v1M50 57v1M52 58v1M53 25v1M54 25v1M54 46v1M55 26v1M55 60v1M56 27v1M56 37v1M56 60v1M57 26v1M57 35v1M57 49v2M58 24v1M58 32v2M58 51v2M58 62v1M59 24v8M59 53v3M60 57v5M66 83v3M72 84v1M73 82v1M74 81v2M75 66v1M75 69v5"/>
<path stroke="#a5317e" d="M8 67v2M9 83v2M10 83v1M11 85v1M24 56v1M24 63v2M25 25v4M25 61v1M26 27v2M26 34v1M26 60v1M27 36v1M27 48v1M28 38v1M28 47v1M29 39v1M31 27v1M32 28v1M32 57v1M35 56v1M36 31v1M47 31v1M48 56v1M51 28v1M51 57v1M52 27v1M54 39v1M55 38v1M55 47v1M56 36v1M56 48v1M57 27v2M57 34v1M57 60v1M58 25v4M58 61v1M59 56v1M59 63v2M72 85v1M73 83v1M74 83v2M75 67v2"/>
<path stroke="#ad347c" d="M9 85v1M24 57v1M24 62v1M25 29v3M25 53v3M25 60v1M26 29v2M26 32v2M26 51v2M26 59v1M27 28v1M27 35v1M27 49v2M27 59v1M28 27v1M28 59v1M29 26v1M29 59v1M30 26v1M30 58v1M31 45v1M34 29v1M34 56v1M36 55v1M37 54v1M39 34v1M39 52v1M44 34v1M44 52v1M46 54v1M47 55v1M49 29v1M49 56v1M52 45v1M53 26v1M53 58v1M54 26v1M54 59v1M55 27v1M55 59v1M56 28v1M56 35v1M56 49v2M56 59v1M57 29v2M57 32v2M57 51v2M57 59v1M58 29v3M58 53v3M58 60v1M59 57v1M59 62v1M74 85v1"/>
<path stroke="#b73779" d="M10 84v2M24 58v4M25 56v4M26 31v1M26 53v2M27 29v1M27 51v2M28 37v1M28 48v1M30 27v1M30 46v1M31 40v1M31 57v1M33 29v1M35 30v1M38 53v1M40 50v1M43 50v1M45 53v1M48 30v1M50 29v1M52 40v1M52 57v1M53 27v1M53 46v1M55 37v1M55 48v1M56 29v1M56 51v2M57 31v1M57 53v2M58 56v4M59 58v4M73 84v2"/>
<path stroke="#bf3a77" d="M26 55v1M26 58v1M27 30v1M27 33v1M27 53v2M27 58v1M28 28v1M28 50v1M29 27v1M29 58v1M31 28v1M32 29v1M33 56v1M34 41v1M34 44v1M37 32v1M38 33v1M45 33v1M46 32v1M49 41v1M49 44v1M50 56v1M51 29v1M52 28v1M54 27v1M54 58v1M55 28v1M55 50v1M56 30v1M56 33v1M56 53v2M56 58v1M57 55v1M57 58v1"/>
<path stroke="#c73d73" d="M26 56v2M27 31v2M27 34v1M27 55v1M28 36v1M28 49v1M28 51v1M28 58v1M29 38v1M29 47v1M30 28v1M30 39v1M30 57v1M32 56v1M34 30v1M35 55v1M48 55v1M49 30v1M51 56v1M53 28v1M53 39v1M53 57v1M54 38v1M54 47v1M55 36v1M55 49v1M55 51v1M55 58v1M56 31v2M56 34v1M56 55v1M57 56v2"/>
<path stroke="#d0416f" d="M27 56v2M28 29v1M28 35v1M28 52v2M29 28v1M29 57v1M31 29v1M31 56v1M32 40v1M32 45v1M33 30v1M35 31v1M36 54v1M47 54v1M48 31v1M50 30v1M51 40v1M51 45v1M52 29v1M52 56v1M54 28v1M54 57v1M55 29v1M55 35v1M55 52v2M56 56v2"/>
<path stroke="#d8456c" d="M28 30v1M28 32v3M28 54v4M29 29v1M29 37v1M29 48v1M30 29v1M32 30v1M34 55v1M37 42v2M46 42v2M49 55v1M51 30v1M53 29v1M54 29v1M54 37v1M54 48v1M55 30v1M55 32v3M55 54v4"/>
<path stroke="#df4a68" d="M28 31v1M29 30v1M29 36v1M29 49v8M30 30v1M30 38v1M30 47v1M30 56v1M31 30v1M31 39v1M31 46v1M33 55v1M34 31v1M37 53v1M40 36v1M43 36v1M46 53v1M49 31v1M50 55v1M52 30v1M52 39v1M52 46v1M53 30v1M53 38v1M53 47v1M53 56v1M54 30v1M54 36v1M54 49v8M55 31v1"/>
<path stroke="#e75263" d="M29 31v5M31 55v1M32 55v1M33 31v1M35 54v1M36 32v1M38 52v1M39 51v1M40 49v1M43 49v1M44 51v1M45 52v1M47 32v1M48 54v1M50 31v1M51 55v1M52 55v1M54 31v5"/>
<path stroke="#ec5860" d="M30 32v1M30 54v2M31 31v1M32 31v1M51 31v1M52 31v1M53 32v1M53 54v2"/>
<path stroke="#f1605d" d="M30 31v1M30 33v1M30 37v1M30 48v1M30 50v4M33 40v1M33 54v1M34 54v1M36 53v1M47 53v1M49 54v1M50 40v1M50 54v1M53 31v1M53 33v1M53 37v1M53 48v1M53 50v4"/>
<path stroke="#f56b5c" d="M30 36v1M30 49v1M31 32v1M31 38v1M31 47v1M31 54v1M32 54v1M33 45v1M35 32v1M37 33v1M41 47v1M42 47v1M46 33v1M48 32v1M50 45v1M51 54v1M52 32v1M52 38v1M52 47v1M52 54v1M53 36v1M53 49v1"/>
<path stroke="#f8745c" d="M30 34v2M31 52v2M32 32v1M32 39v1M32 46v1M35 53v1M39 35v1M41 38v1M42 38v1M44 35v1M48 53v1M51 32v1M51 39v1M51 46v1M52 52v2M53 34v2"/>
<path stroke="#fa7d5e" d="M31 33v1M31 37v1M31 48v1M31 51v1M32 53v1M33 32v1M33 53v1M34 32v1M34 53v1M37 52v1M38 34v1M45 34v1M46 52v1M49 32v1M49 53v1M50 32v1M50 53v1M51 53v1M52 33v1M52 37v1M52 48v1M52 51v1"/>
<path stroke="#fc8961" d="M31 50v1M52 50v1"/>
<path stroke="#fd9266" d="M31 34v3M31 49v1M32 33v1M32 52v1M35 41v1M35 44v1M36 33v1M36 52v1M47 33v1M47 52v1M48 41v1M48 44v1M51 33v1M51 52v1M52 34v3M52 49v1"/>
<path stroke="#fd9b6b" d="M32 38v1M32 47v1M32 51v1M33 52v1M34 40v1M35 52v1M38 51v1M45 51v1M48 52v1M49 40v1M50 52v1M51 38v1M51 47v1M51 51v1"/>
<path stroke="#fea772" d="M32 34v1M32 37v1M33 33v1M33 39v1M34 52v1M49 52v1M50 33v1M50 39v1M51 34v1M51 37v1"/>
<path stroke="#feb078" d="M32 35v2M32 48v3M33 46v1M33 51v1M34 33v1M34 45v1M35 33v1M39 50v1M44 50v1M48 33v1M49 33v1M49 45v1M50 46v1M50 51v1M51 35v2M51 48v3"/>
<path stroke="#feb97f" d="M33 34v1M50 34v1"/>
<path stroke="#fec488" d="M33 37v2M33 47v1M34 51v1M37 34v1M37 51v1M46 34v1M46 51v1M49 51v1M50 37v2M50 47v1"/>
<path stroke="#fecd90" d="M33 35v2M33 48v3M34 34v1M35 51v1M36 51v1M40 37v1M40 48v1M43 37v1M43 48v1M47 51v1M48 51v1M49 34v1M50 35v2M50 48v3"/>
<path stroke="#fed799" d="M34 39v1M38 35v1M39 36v1M44 36v1M45 35v1M49 39v1"/>
<path stroke="#fde2a3" d="M35 34v1M35 40v1M36 34v1M38 42v2M45 42v2M47 34v1M48 34v1M48 40v1"/>
<path stroke="#fdebac" d="M34 35v1M34 50v1M38 50v1M39 49v1M44 49v1M45 50v1M49 35v1M49 50v1"/>
<path stroke="#fcf4b6" d="M34 36v3M34 46v2M35 45v1M36 41v1M36 44v1M41 46v1M42 46v1M47 41v1M47 44v1M48 45v1M49 36v3M49 46v2"/>
<path stroke="#fcfdbf" d="M34 48v2M35 35v5M35 46v5M36 35v6M36 45v6M37 35v7M37 44v7M38 36v6M38 44v6M39 37v12M40 38v10M41 39v7M42 39v7M43 38v10M44 37v12M45 36v6M45 44v6M46 35v7M46 44v7M47 35v6M47 45v6M48 35v5M48 46v5M49 48v2"/>
</g></g>
</svg>
<svg width="941" height="406" viewBox="0 0 941 406">
<linearGradient id="g1" x1="0" y1="0" x2="0" y2="1" gradientUnits="objectBoundingBox"><stop offset="0.0000" stop-color="#fcfdbf"/><stop offset="0.0312" stop-color="#fcf0b2"/><stop offset="0.0625" stop-color="#fde2a3"/><stop offset="0.0938" stop-color="#fed395"/><stop offset="0.1250" stop-color="#fec488"/><stop offset="0.1562" stop-color="#feb67c"/><stop offset="0.1875" stop-color="#fea772"/><stop offset="0.2188" stop-color="#fd9869"/><stop offset="0.2500" stop-color="#fc8961"/><stop offset="0.2812" stop-color="#f9795d"/><stop offset="0.3125" stop-color="#f56b5c"/><stop offset="0.3438" stop-color="#ef5d5e"/><stop offset="0.3750" stop-color="#e75263"/><stop offset="0.4062" stop-color="#dc4869"/><stop offset="0.4375" stop-color="#d0416f"/><stop offset="0.4688" stop-color="#c43c75"/><stop offset="0.5000" stop-color="#b73779"/><stop offset="0.5312" stop-color="#aa337d"/><stop offset="0.5625" stop-color="#9c2e7f"/><stop offset="0.5938" stop-color="#902a81"/><stop offset="0.6250" stop-color="#832681"/><stop offset="0.6562" stop-color="#762181"/><stop offset="0.6875" stop-color="#6a1c81"/><stop offset="0.7188" stop-color="#5d177f"/><stop offset="0.7500" stop-color="#51127c"/><stop offset="0.7812" stop-color="#440f76"/><stop offset="0.8125" stop-color="#36106b"/><stop offset="0.8438" stop-color="#29115a"/><stop offset="0.8750" stop-color="#1d1147"/><stop offset="0.9062" stop-color="#130d34"/><stop offset="0.9375" stop-color="#0a0822"/><stop offset="0.9688" stop-color="#030312"/><stop offset="1.0000" stop-color="#000004"/></linearGradient>
<rect x="377.50" y="77.30" width="14.00" height="276.20" fill="url(#g1)"/>
<path d="M377.50 77.60L384.50 63.30L391.50 77.60z" fill="#fcfdbf"/>
<path d="M377.50 353.50L377.50 77.30L384.50 63.30L391.50 77.30L391.50 353.50z" fill="none" stroke="#000" stroke-width="1.1" stroke-linejoin="miter"/>
<path d="M392.00 353.50h4.9" stroke="#000" stroke-width="1.1"/>
<path d="M392.00 305.50h4.9" stroke="#000" stroke-width="1.1"/>
<path d="M392.00 256.50h4.9" stroke="#000" stroke-width="1.1"/>
<path d="M392.00 208.50h4.9" stroke="#000" stroke-width="1.1"/>
<path d="M392.00 160.50h4.9" stroke="#000" stroke-width="1.1"/>
<path d="M392.00 112.50h4.9" stroke="#000" stroke-width="1.1"/>
<linearGradient id="g2" x1="0" y1="0" x2="0" y2="1" gradientUnits="objectBoundingBox"><stop offset="0.0000" stop-color="#fcfdbf"/><stop offset="0.0312" stop-color="#fcf0b2"/><stop offset="0.0625" stop-color="#fde2a3"/><stop offset="0.0938" stop-color="#fed395"/><stop offset="0.1250" stop-color="#fec488"/><stop offset="0.1562" stop-color="#feb67c"/><stop offset="0.1875" stop-color="#fea772"/><stop offset="0.2188" stop-color="#fd9869"/><stop offset="0.2500" stop-color="#fc8961"/><stop offset="0.2812" stop-color="#f9795d"/><stop offset="0.3125" stop-color="#f56b5c"/><stop offset="0.3438" stop-color="#ef5d5e"/><stop offset="0.3750" stop-color="#e75263"/><stop offset="0.4062" stop-color="#dc4869"/><stop offset="0.4375" stop-color="#d0416f"/><stop offset="0.4688" stop-color="#c43c75"/><stop offset="0.5000" stop-color="#b73779"/><stop offset="0.5312" stop-color="#aa337d"/><stop offset="0.5625" stop-color="#9c2e7f"/><stop offset="0.5938" stop-color="#902a81"/><stop offset="0.6250" stop-color="#832681"/><stop offset="0.6562" stop-color="#762181"/><stop offset="0.6875" stop-color="#6a1c81"/><stop offset="0.7188" stop-color="#5d177f"/><stop offset="0.7500" stop-color="#51127c"/><stop offset="0.7812" stop-color="#440f76"/><stop offset="0.8125" stop-color="#36106b"/><stop offset="0.8438" stop-color="#29115a"/><stop offset="0.8750" stop-color="#1d1147"/><stop offset="0.9062" stop-color="#130d34"/><stop offset="0.9375" stop-color="#0a0822"/><stop offset="0.9688" stop-color="#030312"/><stop offset="1.0000" stop-color="#000004"/></linearGradient>
<rect x="869.50" y="77.30" width="15.00" height="276.20" fill="url(#g2)"/>
<path d="M869.50 77.60L877.00 63.30L884.50 77.60z" fill="#fcfdbf"/>
<path d="M869.50 353.50L869.50 77.30L877.00 63.30L884.50 77.30L884.50 353.50z" fill="none" stroke="#000" stroke-width="1.1" stroke-linejoin="miter"/>
<path d="M885.00 353.50h4.9" stroke="#000" stroke-width="1.1"/>
<path d="M885.00 298.50h4.9" stroke="#000" stroke-width="1.1"/>
<path d="M885.00 242.50h4.9" stroke="#000" stroke-width="1.1"/>
<path d="M885.00 187.50h4.9" stroke="#000" stroke-width="1.1"/>
<path d="M885.00 131.50h4.9" stroke="#000" stroke-width="1.1"/>
<rect x="75.50" y="64.50" width="282.00" height="289.00" fill="none" stroke="#000" stroke-width="1.1"/>
<path d="M75.50 354.00v4.9" stroke="#000" stroke-width="1.1"/>
<path d="M75.00 67.50h-4.9" stroke="#000" stroke-width="1.1"/>
<path d="M122.50 354.00v4.9" stroke="#000" stroke-width="1.1"/>
<path d="M75.00 114.50h-4.9" stroke="#000" stroke-width="1.1"/>
<path d="M169.50 354.00v4.9" stroke="#000" stroke-width="1.1"/>
<path d="M75.00 161.50h-4.9" stroke="#000" stroke-width="1.1"/>
<path d="M216.50 354.00v4.9" stroke="#000" stroke-width="1.1"/>
<path d="M75.00 208.50h-4.9" stroke="#000" stroke-width="1.1"/>
<path d="M263.50 354.00v4.9" stroke="#000" stroke-width="1.1"/>
<path d="M75.00 255.50h-4.9" stroke="#000" stroke-width="1.1"/>
<path d="M310.50 354.00v4.9" stroke="#000" stroke-width="1.1"/>
<path d="M75.00 302.50h-4.9" stroke="#000" stroke-width="1.1"/>
<path d="M357.50 354.00v4.9" stroke="#000" stroke-width="1.1"/>
<path d="M75.00 349.50h-4.9" stroke="#000" stroke-width="1.1"/>
<rect x="567.50" y="64.50" width="283.00" height="289.00" fill="none" stroke="#000" stroke-width="1.1"/>
<path d="M567.50 354.00v4.9" stroke="#000" stroke-width="1.1"/>
<path d="M567.00 67.50h-4.9" stroke="#000" stroke-width="1.1"/>
<path d="M614.50 354.00v4.9" stroke="#000" stroke-width="1.1"/>
<path d="M567.00 114.50h-4.9" stroke="#000" stroke-width="1.1"/>
<path d="M661.50 354.00v4.9" stroke="#000" stroke-width="1.1"/>
<path d="M567.00 161.50h-4.9" stroke="#000" stroke-width="1.1"/>
<path d="M709.50 354.00v4.9" stroke="#000" stroke-width="1.1"/>
<path d="M567.00 208.50h-4.9" stroke="#000" stroke-width="1.1"/>
<path d="M756.50 354.00v4.9" stroke="#000" stroke-width="1.1"/>
<path d="M567.00 255.50h-4.9" stroke="#000" stroke-width="1.1"/>
<path d="M803.50 354.00v4.9" stroke="#000" stroke-width="1.1"/>
<path d="M567.00 302.50h-4.9" stroke="#000" stroke-width="1.1"/>
<path d="M850.50 354.00v4.9" stroke="#000" stroke-width="1.1"/>
<path d="M567.00 349.50h-4.9" stroke="#000" stroke-width="1.1"/>
</svg>
<div class="t ttl c" style="left:455.0px;top:5.7px;">Notice that both Ey and Ez go to zero on both sides</div>
<div class="t sub c" style="left:216.5px;top:41.2px;">cross section at y=0.00 (&micro;m)</div>
<div class="t tk c" style="left:75.8px;top:360.6px;">-6.00</div>
<div class="t tk c" style="left:122.8px;top:360.6px;">-4.00</div>
<div class="t tk c" style="left:169.8px;top:360.6px;">-2.00</div>
<div class="t tk c" style="left:216.8px;top:360.6px;">0.00</div>
<div class="t tk c" style="left:263.9px;top:360.6px;">2.00</div>
<div class="t tk c" style="left:310.9px;top:360.6px;">4.00</div>
<div class="t tk c" style="left:357.9px;top:360.6px;">6.00</div>
<div class="t tk r" style="left:65.0px;top:60.3px;">6.00</div>
<div class="t tk r" style="left:65.0px;top:107.3px;">4.00</div>
<div class="t tk r" style="left:65.0px;top:154.3px;">2.00</div>
<div class="t tk r" style="left:65.0px;top:201.3px;">0.00</div>
<div class="t tk r" style="left:65.0px;top:248.3px;">-2.00</div>
<div class="t tk r" style="left:65.0px;top:295.3px;">-4.00</div>
<div class="t tk r" style="left:65.0px;top:342.3px;">-6.00</div>
<div class="t tk c" style="left:216.5px;top:380.0px;letter-spacing:1.1px;">x (&micro;m)</div>
<div class="t tk rot" style="left:14.6px;top:209.0px;letter-spacing:1.1px;">z (&micro;m)</div>
<div class="t sub c" style="left:709.0px;top:41.2px;">cross section at y=0.00 (&micro;m)</div>
<div class="t tk c" style="left:567.9px;top:360.6px;">-6.00</div>
<div class="t tk c" style="left:615.0px;top:360.6px;">-4.00</div>
<div class="t tk c" style="left:662.2px;top:360.6px;">-2.00</div>
<div class="t tk c" style="left:709.4px;top:360.6px;">0.00</div>
<div class="t tk c" style="left:756.5px;top:360.6px;">2.00</div>
<div class="t tk c" style="left:803.7px;top:360.6px;">4.00</div>
<div class="t tk c" style="left:850.9px;top:360.6px;">6.00</div>
<div class="t tk r" style="left:557.0px;top:60.3px;">6.00</div>
<div class="t tk r" style="left:557.0px;top:107.3px;">4.00</div>
<div class="t tk r" style="left:557.0px;top:154.3px;">2.00</div>
<div class="t tk r" style="left:557.0px;top:201.3px;">0.00</div>
<div class="t tk r" style="left:557.0px;top:248.3px;">-2.00</div>
<div class="t tk r" style="left:557.0px;top:295.3px;">-4.00</div>
<div class="t tk r" style="left:557.0px;top:342.3px;">-6.00</div>
<div class="t tk c" style="left:709.0px;top:380.0px;letter-spacing:1.1px;">x (&micro;m)</div>
<div class="t tk rot" style="left:506.6px;top:209.0px;letter-spacing:1.1px;">z (&micro;m)</div>
<div class="t tk" style="left:402.1px;top:346.3px;">0</div>
<div class="t tk" style="left:402.1px;top:298.0px;">5</div>
<div class="t tk" style="left:402.1px;top:249.7px;">10</div>
<div class="t tk" style="left:402.1px;top:201.4px;">15</div>
<div class="t tk" style="left:402.1px;top:153.1px;">20</div>
<div class="t tk" style="left:402.1px;top:104.8px;">25</div>
<div class="t tk rot" style="left:431.2px;top:217.9px;">|Ey|</div>
<div class="t tk" style="left:895.1px;top:346.3px;">0</div>
<div class="t tk" style="left:895.1px;top:290.8px;">10</div>
<div class="t tk" style="left:895.1px;top:235.3px;">20</div>
<div class="t tk" style="left:895.1px;top:179.8px;">30</div>
<div class="t tk" style="left:895.1px;top:124.3px;">40</div>
<div class="t tk rot" style="left:924.2px;top:217.9px;">|Ez|</div>
</body></html>
